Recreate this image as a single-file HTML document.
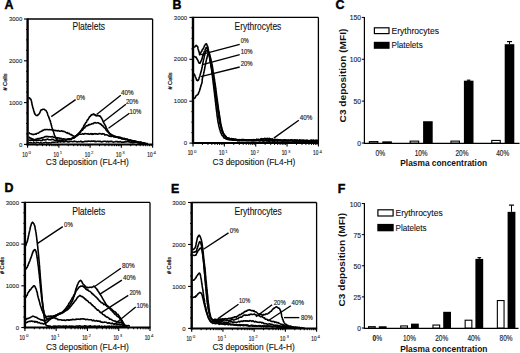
<!DOCTYPE html>
<html><head><meta charset="utf-8"><style>
html,body{margin:0;padding:0;background:#fff;}
svg{display:block;font-family:"Liberation Sans",sans-serif;}
</style></head><body>
<svg width="520" height="353" viewBox="0 0 520 353">
<rect width="520" height="353" fill="#fff"/>
<text x="4.6" y="8.8" font-size="12.4" font-weight="bold" fill="#000" stroke="#000" stroke-width="0.45">A</text>
<text x="172.6" y="8.8" font-size="12.4" font-weight="bold" fill="#000" stroke="#000" stroke-width="0.45">B</text>
<text x="335.4" y="8.6" font-size="12.4" font-weight="bold" fill="#000" stroke="#000" stroke-width="0.45">C</text>
<text x="4.4" y="192.3" font-size="12.4" font-weight="bold" fill="#000" stroke="#000" stroke-width="0.45">D</text>
<text x="171" y="192.6" font-size="12.4" font-weight="bold" fill="#000" stroke="#000" stroke-width="0.45">E</text>
<text x="337.8" y="192.7" font-size="12.4" font-weight="bold" fill="#000" stroke="#000" stroke-width="0.45">F</text>
<line x1="27.6" y1="19" x2="152.6" y2="19" stroke="#000" stroke-width="1.3"/>
<line x1="152.6" y1="19" x2="152.6" y2="144.4" stroke="#000" stroke-width="1.3"/>
<line x1="24" y1="144.4" x2="27.6" y2="144.4" stroke="#000" stroke-width="1.1"/>
<line x1="26" y1="133.95" x2="27.6" y2="133.95" stroke="#000" stroke-width="1"/>
<line x1="26" y1="123.5" x2="27.6" y2="123.5" stroke="#000" stroke-width="1"/>
<line x1="26" y1="113.05" x2="27.6" y2="113.05" stroke="#000" stroke-width="1"/>
<line x1="24" y1="102.6" x2="27.6" y2="102.6" stroke="#000" stroke-width="1.1"/>
<line x1="26" y1="92.15" x2="27.6" y2="92.15" stroke="#000" stroke-width="1"/>
<line x1="26" y1="81.7" x2="27.6" y2="81.7" stroke="#000" stroke-width="1"/>
<line x1="26" y1="71.25" x2="27.6" y2="71.25" stroke="#000" stroke-width="1"/>
<line x1="24" y1="60.8" x2="27.6" y2="60.8" stroke="#000" stroke-width="1.1"/>
<line x1="26" y1="50.35" x2="27.6" y2="50.35" stroke="#000" stroke-width="1"/>
<line x1="26" y1="39.9" x2="27.6" y2="39.9" stroke="#000" stroke-width="1"/>
<line x1="26" y1="29.45" x2="27.6" y2="29.45" stroke="#000" stroke-width="1"/>
<line x1="24" y1="19" x2="27.6" y2="19" stroke="#000" stroke-width="1.1"/>
<text x="22.3" y="146.5" font-size="6" text-anchor="end" fill="#222" stroke="#222" stroke-width="0.1">0</text>
<text x="22.3" y="104.7" font-size="6" text-anchor="end" fill="#222" stroke="#222" stroke-width="0.1">1000</text>
<text x="22.3" y="62.9" font-size="6" text-anchor="end" fill="#222" stroke="#222" stroke-width="0.1">2000</text>
<text x="22.3" y="21.1" font-size="6" text-anchor="end" fill="#222" stroke="#222" stroke-width="0.1">3000</text>
<line x1="27.6" y1="144.4" x2="27.6" y2="147.8" stroke="#000" stroke-width="1.1"/>
<line x1="37.01" y1="144.4" x2="37.01" y2="146.2" stroke="#000" stroke-width="1"/>
<line x1="42.51" y1="144.4" x2="42.51" y2="146.2" stroke="#000" stroke-width="1"/>
<line x1="46.41" y1="144.4" x2="46.41" y2="146.2" stroke="#000" stroke-width="1"/>
<line x1="49.44" y1="144.4" x2="49.44" y2="146.2" stroke="#000" stroke-width="1"/>
<line x1="51.92" y1="144.4" x2="51.92" y2="146.2" stroke="#000" stroke-width="1"/>
<line x1="54.01" y1="144.4" x2="54.01" y2="146.2" stroke="#000" stroke-width="1"/>
<line x1="55.82" y1="144.4" x2="55.82" y2="146.2" stroke="#000" stroke-width="1"/>
<line x1="57.42" y1="144.4" x2="57.42" y2="146.2" stroke="#000" stroke-width="1"/>
<line x1="58.85" y1="144.4" x2="58.85" y2="147.8" stroke="#000" stroke-width="1.1"/>
<line x1="68.26" y1="144.4" x2="68.26" y2="146.2" stroke="#000" stroke-width="1"/>
<line x1="73.76" y1="144.4" x2="73.76" y2="146.2" stroke="#000" stroke-width="1"/>
<line x1="77.66" y1="144.4" x2="77.66" y2="146.2" stroke="#000" stroke-width="1"/>
<line x1="80.69" y1="144.4" x2="80.69" y2="146.2" stroke="#000" stroke-width="1"/>
<line x1="83.17" y1="144.4" x2="83.17" y2="146.2" stroke="#000" stroke-width="1"/>
<line x1="85.26" y1="144.4" x2="85.26" y2="146.2" stroke="#000" stroke-width="1"/>
<line x1="87.07" y1="144.4" x2="87.07" y2="146.2" stroke="#000" stroke-width="1"/>
<line x1="88.67" y1="144.4" x2="88.67" y2="146.2" stroke="#000" stroke-width="1"/>
<line x1="90.1" y1="144.4" x2="90.1" y2="147.8" stroke="#000" stroke-width="1.1"/>
<line x1="99.51" y1="144.4" x2="99.51" y2="146.2" stroke="#000" stroke-width="1"/>
<line x1="105.01" y1="144.4" x2="105.01" y2="146.2" stroke="#000" stroke-width="1"/>
<line x1="108.91" y1="144.4" x2="108.91" y2="146.2" stroke="#000" stroke-width="1"/>
<line x1="111.94" y1="144.4" x2="111.94" y2="146.2" stroke="#000" stroke-width="1"/>
<line x1="114.42" y1="144.4" x2="114.42" y2="146.2" stroke="#000" stroke-width="1"/>
<line x1="116.51" y1="144.4" x2="116.51" y2="146.2" stroke="#000" stroke-width="1"/>
<line x1="118.32" y1="144.4" x2="118.32" y2="146.2" stroke="#000" stroke-width="1"/>
<line x1="119.92" y1="144.4" x2="119.92" y2="146.2" stroke="#000" stroke-width="1"/>
<line x1="121.35" y1="144.4" x2="121.35" y2="147.8" stroke="#000" stroke-width="1.1"/>
<line x1="130.76" y1="144.4" x2="130.76" y2="146.2" stroke="#000" stroke-width="1"/>
<line x1="136.26" y1="144.4" x2="136.26" y2="146.2" stroke="#000" stroke-width="1"/>
<line x1="140.16" y1="144.4" x2="140.16" y2="146.2" stroke="#000" stroke-width="1"/>
<line x1="143.19" y1="144.4" x2="143.19" y2="146.2" stroke="#000" stroke-width="1"/>
<line x1="145.67" y1="144.4" x2="145.67" y2="146.2" stroke="#000" stroke-width="1"/>
<line x1="147.76" y1="144.4" x2="147.76" y2="146.2" stroke="#000" stroke-width="1"/>
<line x1="149.57" y1="144.4" x2="149.57" y2="146.2" stroke="#000" stroke-width="1"/>
<line x1="151.17" y1="144.4" x2="151.17" y2="146.2" stroke="#000" stroke-width="1"/>
<line x1="152.6" y1="144.4" x2="152.6" y2="147.8" stroke="#000" stroke-width="1.1"/>
<text x="22.3" y="156.7" font-size="6.6" textLength="5.2" lengthAdjust="spacingAndGlyphs" fill="#222" stroke="#222" stroke-width="0.18">10</text>
<text x="28.6" y="154.1" font-size="4.4" fill="#222" stroke="#222" stroke-width="0.06">0</text>
<text x="53.55" y="156.7" font-size="6.6" textLength="5.2" lengthAdjust="spacingAndGlyphs" fill="#222" stroke="#222" stroke-width="0.18">10</text>
<text x="59.85" y="154.1" font-size="4.4" fill="#222" stroke="#222" stroke-width="0.06">1</text>
<text x="84.8" y="156.7" font-size="6.6" textLength="5.2" lengthAdjust="spacingAndGlyphs" fill="#222" stroke="#222" stroke-width="0.18">10</text>
<text x="91.1" y="154.1" font-size="4.4" fill="#222" stroke="#222" stroke-width="0.06">2</text>
<text x="116.05" y="156.7" font-size="6.6" textLength="5.2" lengthAdjust="spacingAndGlyphs" fill="#222" stroke="#222" stroke-width="0.18">10</text>
<text x="122.35" y="154.1" font-size="4.4" fill="#222" stroke="#222" stroke-width="0.06">3</text>
<text x="147.3" y="156.7" font-size="6.6" textLength="5.2" lengthAdjust="spacingAndGlyphs" fill="#222" stroke="#222" stroke-width="0.18">10</text>
<text x="153.6" y="154.1" font-size="4.4" fill="#222" stroke="#222" stroke-width="0.06">4</text>
<line x1="27.6" y1="18.4" x2="27.6" y2="145.4" stroke="#000" stroke-width="2.4"/>
<line x1="26.6" y1="144.4" x2="153.2" y2="144.4" stroke="#000" stroke-width="2"/>
<text x="72.5" y="29.8" font-size="10.4" textLength="32.5" lengthAdjust="spacingAndGlyphs" fill="#111" stroke="#111" stroke-width="0.12">Platelets</text>
<text x="45.8" y="165.4" font-size="8.9" textLength="83" lengthAdjust="spacingAndGlyphs" fill="#111" stroke="#111" stroke-width="0.1">C3 deposition (FL4-H)</text>
<text x="7" y="82" font-size="5.6" text-anchor="middle" textLength="17.2" lengthAdjust="spacingAndGlyphs" transform="rotate(-90 7 82)" fill="#111" stroke="#111" stroke-width="0.2"># Cells</text>
<line x1="193" y1="17.4" x2="318.4" y2="17.4" stroke="#000" stroke-width="1.3"/>
<line x1="318.4" y1="17.4" x2="318.4" y2="143.1" stroke="#000" stroke-width="1.3"/>
<line x1="189.4" y1="143.1" x2="193" y2="143.1" stroke="#000" stroke-width="1.1"/>
<line x1="191.4" y1="132.62" x2="193" y2="132.62" stroke="#000" stroke-width="1"/>
<line x1="191.4" y1="122.15" x2="193" y2="122.15" stroke="#000" stroke-width="1"/>
<line x1="191.4" y1="111.67" x2="193" y2="111.67" stroke="#000" stroke-width="1"/>
<line x1="189.4" y1="101.2" x2="193" y2="101.2" stroke="#000" stroke-width="1.1"/>
<line x1="191.4" y1="90.72" x2="193" y2="90.72" stroke="#000" stroke-width="1"/>
<line x1="191.4" y1="80.25" x2="193" y2="80.25" stroke="#000" stroke-width="1"/>
<line x1="191.4" y1="69.78" x2="193" y2="69.78" stroke="#000" stroke-width="1"/>
<line x1="189.4" y1="59.3" x2="193" y2="59.3" stroke="#000" stroke-width="1.1"/>
<line x1="191.4" y1="48.83" x2="193" y2="48.83" stroke="#000" stroke-width="1"/>
<line x1="191.4" y1="38.35" x2="193" y2="38.35" stroke="#000" stroke-width="1"/>
<line x1="191.4" y1="27.88" x2="193" y2="27.88" stroke="#000" stroke-width="1"/>
<line x1="189.4" y1="17.4" x2="193" y2="17.4" stroke="#000" stroke-width="1.1"/>
<text x="187.2" y="145.2" font-size="6" text-anchor="end" fill="#222" stroke="#222" stroke-width="0.1">0</text>
<text x="187.2" y="103.3" font-size="6" text-anchor="end" fill="#222" stroke="#222" stroke-width="0.1">1000</text>
<text x="187.2" y="61.4" font-size="6" text-anchor="end" fill="#222" stroke="#222" stroke-width="0.1">2000</text>
<text x="187.2" y="19.5" font-size="6" text-anchor="end" fill="#222" stroke="#222" stroke-width="0.1">3000</text>
<line x1="193" y1="143.1" x2="193" y2="146.5" stroke="#000" stroke-width="1.1"/>
<line x1="202.44" y1="143.1" x2="202.44" y2="144.9" stroke="#000" stroke-width="1"/>
<line x1="207.96" y1="143.1" x2="207.96" y2="144.9" stroke="#000" stroke-width="1"/>
<line x1="211.87" y1="143.1" x2="211.87" y2="144.9" stroke="#000" stroke-width="1"/>
<line x1="214.91" y1="143.1" x2="214.91" y2="144.9" stroke="#000" stroke-width="1"/>
<line x1="217.4" y1="143.1" x2="217.4" y2="144.9" stroke="#000" stroke-width="1"/>
<line x1="219.49" y1="143.1" x2="219.49" y2="144.9" stroke="#000" stroke-width="1"/>
<line x1="221.31" y1="143.1" x2="221.31" y2="144.9" stroke="#000" stroke-width="1"/>
<line x1="222.92" y1="143.1" x2="222.92" y2="144.9" stroke="#000" stroke-width="1"/>
<line x1="224.35" y1="143.1" x2="224.35" y2="146.5" stroke="#000" stroke-width="1.1"/>
<line x1="233.79" y1="143.1" x2="233.79" y2="144.9" stroke="#000" stroke-width="1"/>
<line x1="239.31" y1="143.1" x2="239.31" y2="144.9" stroke="#000" stroke-width="1"/>
<line x1="243.22" y1="143.1" x2="243.22" y2="144.9" stroke="#000" stroke-width="1"/>
<line x1="246.26" y1="143.1" x2="246.26" y2="144.9" stroke="#000" stroke-width="1"/>
<line x1="248.75" y1="143.1" x2="248.75" y2="144.9" stroke="#000" stroke-width="1"/>
<line x1="250.84" y1="143.1" x2="250.84" y2="144.9" stroke="#000" stroke-width="1"/>
<line x1="252.66" y1="143.1" x2="252.66" y2="144.9" stroke="#000" stroke-width="1"/>
<line x1="254.27" y1="143.1" x2="254.27" y2="144.9" stroke="#000" stroke-width="1"/>
<line x1="255.7" y1="143.1" x2="255.7" y2="146.5" stroke="#000" stroke-width="1.1"/>
<line x1="265.14" y1="143.1" x2="265.14" y2="144.9" stroke="#000" stroke-width="1"/>
<line x1="270.66" y1="143.1" x2="270.66" y2="144.9" stroke="#000" stroke-width="1"/>
<line x1="274.57" y1="143.1" x2="274.57" y2="144.9" stroke="#000" stroke-width="1"/>
<line x1="277.61" y1="143.1" x2="277.61" y2="144.9" stroke="#000" stroke-width="1"/>
<line x1="280.1" y1="143.1" x2="280.1" y2="144.9" stroke="#000" stroke-width="1"/>
<line x1="282.19" y1="143.1" x2="282.19" y2="144.9" stroke="#000" stroke-width="1"/>
<line x1="284.01" y1="143.1" x2="284.01" y2="144.9" stroke="#000" stroke-width="1"/>
<line x1="285.62" y1="143.1" x2="285.62" y2="144.9" stroke="#000" stroke-width="1"/>
<line x1="287.05" y1="143.1" x2="287.05" y2="146.5" stroke="#000" stroke-width="1.1"/>
<line x1="296.49" y1="143.1" x2="296.49" y2="144.9" stroke="#000" stroke-width="1"/>
<line x1="302.01" y1="143.1" x2="302.01" y2="144.9" stroke="#000" stroke-width="1"/>
<line x1="305.92" y1="143.1" x2="305.92" y2="144.9" stroke="#000" stroke-width="1"/>
<line x1="308.96" y1="143.1" x2="308.96" y2="144.9" stroke="#000" stroke-width="1"/>
<line x1="311.45" y1="143.1" x2="311.45" y2="144.9" stroke="#000" stroke-width="1"/>
<line x1="313.54" y1="143.1" x2="313.54" y2="144.9" stroke="#000" stroke-width="1"/>
<line x1="315.36" y1="143.1" x2="315.36" y2="144.9" stroke="#000" stroke-width="1"/>
<line x1="316.97" y1="143.1" x2="316.97" y2="144.9" stroke="#000" stroke-width="1"/>
<line x1="318.4" y1="143.1" x2="318.4" y2="146.5" stroke="#000" stroke-width="1.1"/>
<text x="187.7" y="155.4" font-size="6.6" textLength="5.2" lengthAdjust="spacingAndGlyphs" fill="#222" stroke="#222" stroke-width="0.18">10</text>
<text x="194" y="152.8" font-size="4.4" fill="#222" stroke="#222" stroke-width="0.06">0</text>
<text x="219.05" y="155.4" font-size="6.6" textLength="5.2" lengthAdjust="spacingAndGlyphs" fill="#222" stroke="#222" stroke-width="0.18">10</text>
<text x="225.35" y="152.8" font-size="4.4" fill="#222" stroke="#222" stroke-width="0.06">1</text>
<text x="250.4" y="155.4" font-size="6.6" textLength="5.2" lengthAdjust="spacingAndGlyphs" fill="#222" stroke="#222" stroke-width="0.18">10</text>
<text x="256.7" y="152.8" font-size="4.4" fill="#222" stroke="#222" stroke-width="0.06">2</text>
<text x="281.75" y="155.4" font-size="6.6" textLength="5.2" lengthAdjust="spacingAndGlyphs" fill="#222" stroke="#222" stroke-width="0.18">10</text>
<text x="288.05" y="152.8" font-size="4.4" fill="#222" stroke="#222" stroke-width="0.06">3</text>
<text x="313.1" y="155.4" font-size="6.6" textLength="5.2" lengthAdjust="spacingAndGlyphs" fill="#222" stroke="#222" stroke-width="0.18">10</text>
<text x="319.4" y="152.8" font-size="4.4" fill="#222" stroke="#222" stroke-width="0.06">4</text>
<line x1="193" y1="16.8" x2="193" y2="144.1" stroke="#000" stroke-width="2.4"/>
<line x1="192" y1="143.1" x2="319" y2="143.1" stroke="#000" stroke-width="2"/>
<text x="234.6" y="29.8" font-size="10.4" textLength="46.7" lengthAdjust="spacingAndGlyphs" fill="#111" stroke="#111" stroke-width="0.12">Erythrocytes</text>
<text x="212.6" y="164.9" font-size="8.9" textLength="82.8" lengthAdjust="spacingAndGlyphs" fill="#111" stroke="#111" stroke-width="0.1">C3 deposition (FL4-H)</text>
<text x="172.2" y="81" font-size="5.6" text-anchor="middle" textLength="17.2" lengthAdjust="spacingAndGlyphs" transform="rotate(-90 172.2 81)" fill="#111" stroke="#111" stroke-width="0.2"># Cells</text>
<line x1="24.9" y1="202.4" x2="150" y2="202.4" stroke="#000" stroke-width="1.3"/>
<line x1="150" y1="202.4" x2="150" y2="327.5" stroke="#000" stroke-width="1.3"/>
<line x1="21.3" y1="327.5" x2="24.9" y2="327.5" stroke="#000" stroke-width="1.1"/>
<line x1="23.3" y1="317.07" x2="24.9" y2="317.07" stroke="#000" stroke-width="1"/>
<line x1="23.3" y1="306.65" x2="24.9" y2="306.65" stroke="#000" stroke-width="1"/>
<line x1="23.3" y1="296.23" x2="24.9" y2="296.23" stroke="#000" stroke-width="1"/>
<line x1="21.3" y1="285.8" x2="24.9" y2="285.8" stroke="#000" stroke-width="1.1"/>
<line x1="23.3" y1="275.38" x2="24.9" y2="275.38" stroke="#000" stroke-width="1"/>
<line x1="23.3" y1="264.95" x2="24.9" y2="264.95" stroke="#000" stroke-width="1"/>
<line x1="23.3" y1="254.52" x2="24.9" y2="254.52" stroke="#000" stroke-width="1"/>
<line x1="21.3" y1="244.1" x2="24.9" y2="244.1" stroke="#000" stroke-width="1.1"/>
<line x1="23.3" y1="233.68" x2="24.9" y2="233.68" stroke="#000" stroke-width="1"/>
<line x1="23.3" y1="223.25" x2="24.9" y2="223.25" stroke="#000" stroke-width="1"/>
<line x1="23.3" y1="212.82" x2="24.9" y2="212.82" stroke="#000" stroke-width="1"/>
<line x1="21.3" y1="202.4" x2="24.9" y2="202.4" stroke="#000" stroke-width="1.1"/>
<text x="19" y="329.6" font-size="6" text-anchor="end" fill="#222" stroke="#222" stroke-width="0.1">0</text>
<text x="19" y="287.9" font-size="6" text-anchor="end" fill="#222" stroke="#222" stroke-width="0.1">1000</text>
<text x="19" y="246.2" font-size="6" text-anchor="end" fill="#222" stroke="#222" stroke-width="0.1">2000</text>
<text x="19" y="204.5" font-size="6" text-anchor="end" fill="#222" stroke="#222" stroke-width="0.1">3000</text>
<line x1="24.9" y1="327.5" x2="24.9" y2="330.9" stroke="#000" stroke-width="1.1"/>
<line x1="34.31" y1="327.5" x2="34.31" y2="329.3" stroke="#000" stroke-width="1"/>
<line x1="39.82" y1="327.5" x2="39.82" y2="329.3" stroke="#000" stroke-width="1"/>
<line x1="43.73" y1="327.5" x2="43.73" y2="329.3" stroke="#000" stroke-width="1"/>
<line x1="46.76" y1="327.5" x2="46.76" y2="329.3" stroke="#000" stroke-width="1"/>
<line x1="49.24" y1="327.5" x2="49.24" y2="329.3" stroke="#000" stroke-width="1"/>
<line x1="51.33" y1="327.5" x2="51.33" y2="329.3" stroke="#000" stroke-width="1"/>
<line x1="53.14" y1="327.5" x2="53.14" y2="329.3" stroke="#000" stroke-width="1"/>
<line x1="54.74" y1="327.5" x2="54.74" y2="329.3" stroke="#000" stroke-width="1"/>
<line x1="56.17" y1="327.5" x2="56.17" y2="330.9" stroke="#000" stroke-width="1.1"/>
<line x1="65.59" y1="327.5" x2="65.59" y2="329.3" stroke="#000" stroke-width="1"/>
<line x1="71.1" y1="327.5" x2="71.1" y2="329.3" stroke="#000" stroke-width="1"/>
<line x1="75" y1="327.5" x2="75" y2="329.3" stroke="#000" stroke-width="1"/>
<line x1="78.04" y1="327.5" x2="78.04" y2="329.3" stroke="#000" stroke-width="1"/>
<line x1="80.51" y1="327.5" x2="80.51" y2="329.3" stroke="#000" stroke-width="1"/>
<line x1="82.61" y1="327.5" x2="82.61" y2="329.3" stroke="#000" stroke-width="1"/>
<line x1="84.42" y1="327.5" x2="84.42" y2="329.3" stroke="#000" stroke-width="1"/>
<line x1="86.02" y1="327.5" x2="86.02" y2="329.3" stroke="#000" stroke-width="1"/>
<line x1="87.45" y1="327.5" x2="87.45" y2="330.9" stroke="#000" stroke-width="1.1"/>
<line x1="96.86" y1="327.5" x2="96.86" y2="329.3" stroke="#000" stroke-width="1"/>
<line x1="102.37" y1="327.5" x2="102.37" y2="329.3" stroke="#000" stroke-width="1"/>
<line x1="106.28" y1="327.5" x2="106.28" y2="329.3" stroke="#000" stroke-width="1"/>
<line x1="109.31" y1="327.5" x2="109.31" y2="329.3" stroke="#000" stroke-width="1"/>
<line x1="111.79" y1="327.5" x2="111.79" y2="329.3" stroke="#000" stroke-width="1"/>
<line x1="113.88" y1="327.5" x2="113.88" y2="329.3" stroke="#000" stroke-width="1"/>
<line x1="115.69" y1="327.5" x2="115.69" y2="329.3" stroke="#000" stroke-width="1"/>
<line x1="117.29" y1="327.5" x2="117.29" y2="329.3" stroke="#000" stroke-width="1"/>
<line x1="118.72" y1="327.5" x2="118.72" y2="330.9" stroke="#000" stroke-width="1.1"/>
<line x1="128.14" y1="327.5" x2="128.14" y2="329.3" stroke="#000" stroke-width="1"/>
<line x1="133.65" y1="327.5" x2="133.65" y2="329.3" stroke="#000" stroke-width="1"/>
<line x1="137.55" y1="327.5" x2="137.55" y2="329.3" stroke="#000" stroke-width="1"/>
<line x1="140.59" y1="327.5" x2="140.59" y2="329.3" stroke="#000" stroke-width="1"/>
<line x1="143.06" y1="327.5" x2="143.06" y2="329.3" stroke="#000" stroke-width="1"/>
<line x1="145.16" y1="327.5" x2="145.16" y2="329.3" stroke="#000" stroke-width="1"/>
<line x1="146.97" y1="327.5" x2="146.97" y2="329.3" stroke="#000" stroke-width="1"/>
<line x1="148.57" y1="327.5" x2="148.57" y2="329.3" stroke="#000" stroke-width="1"/>
<line x1="150" y1="327.5" x2="150" y2="330.9" stroke="#000" stroke-width="1.1"/>
<text x="19.6" y="339.8" font-size="6.6" textLength="5.2" lengthAdjust="spacingAndGlyphs" fill="#222" stroke="#222" stroke-width="0.18">10</text>
<text x="25.9" y="337.2" font-size="4.4" fill="#222" stroke="#222" stroke-width="0.06">0</text>
<text x="50.88" y="339.8" font-size="6.6" textLength="5.2" lengthAdjust="spacingAndGlyphs" fill="#222" stroke="#222" stroke-width="0.18">10</text>
<text x="57.17" y="337.2" font-size="4.4" fill="#222" stroke="#222" stroke-width="0.06">1</text>
<text x="82.15" y="339.8" font-size="6.6" textLength="5.2" lengthAdjust="spacingAndGlyphs" fill="#222" stroke="#222" stroke-width="0.18">10</text>
<text x="88.45" y="337.2" font-size="4.4" fill="#222" stroke="#222" stroke-width="0.06">2</text>
<text x="113.42" y="339.8" font-size="6.6" textLength="5.2" lengthAdjust="spacingAndGlyphs" fill="#222" stroke="#222" stroke-width="0.18">10</text>
<text x="119.72" y="337.2" font-size="4.4" fill="#222" stroke="#222" stroke-width="0.06">3</text>
<text x="144.7" y="339.8" font-size="6.6" textLength="5.2" lengthAdjust="spacingAndGlyphs" fill="#222" stroke="#222" stroke-width="0.18">10</text>
<text x="151" y="337.2" font-size="4.4" fill="#222" stroke="#222" stroke-width="0.06">4</text>
<line x1="24.9" y1="201.8" x2="24.9" y2="328.5" stroke="#000" stroke-width="2.4"/>
<line x1="23.9" y1="327.5" x2="150.6" y2="327.5" stroke="#000" stroke-width="2"/>
<text x="72.2" y="214.5" font-size="10.4" textLength="33" lengthAdjust="spacingAndGlyphs" fill="#111" stroke="#111" stroke-width="0.12">Platelets</text>
<text x="46" y="350.3" font-size="8.9" textLength="82.8" lengthAdjust="spacingAndGlyphs" fill="#111" stroke="#111" stroke-width="0.1">C3 deposition (FL4-H)</text>
<text x="4" y="265.5" font-size="5.6" text-anchor="middle" textLength="17.2" lengthAdjust="spacingAndGlyphs" transform="rotate(-90 4 265.5)" fill="#111" stroke="#111" stroke-width="0.2"># Cells</text>
<line x1="191.7" y1="202.5" x2="316.6" y2="202.5" stroke="#000" stroke-width="1.3"/>
<line x1="316.6" y1="202.5" x2="316.6" y2="328.4" stroke="#000" stroke-width="1.3"/>
<line x1="188.1" y1="328.4" x2="191.7" y2="328.4" stroke="#000" stroke-width="1.1"/>
<line x1="190.1" y1="317.91" x2="191.7" y2="317.91" stroke="#000" stroke-width="1"/>
<line x1="190.1" y1="307.42" x2="191.7" y2="307.42" stroke="#000" stroke-width="1"/>
<line x1="190.1" y1="296.92" x2="191.7" y2="296.92" stroke="#000" stroke-width="1"/>
<line x1="188.1" y1="286.43" x2="191.7" y2="286.43" stroke="#000" stroke-width="1.1"/>
<line x1="190.1" y1="275.94" x2="191.7" y2="275.94" stroke="#000" stroke-width="1"/>
<line x1="190.1" y1="265.45" x2="191.7" y2="265.45" stroke="#000" stroke-width="1"/>
<line x1="190.1" y1="254.96" x2="191.7" y2="254.96" stroke="#000" stroke-width="1"/>
<line x1="188.1" y1="244.47" x2="191.7" y2="244.47" stroke="#000" stroke-width="1.1"/>
<line x1="190.1" y1="233.97" x2="191.7" y2="233.97" stroke="#000" stroke-width="1"/>
<line x1="190.1" y1="223.48" x2="191.7" y2="223.48" stroke="#000" stroke-width="1"/>
<line x1="190.1" y1="212.99" x2="191.7" y2="212.99" stroke="#000" stroke-width="1"/>
<line x1="188.1" y1="202.5" x2="191.7" y2="202.5" stroke="#000" stroke-width="1.1"/>
<text x="185.6" y="330.5" font-size="6" text-anchor="end" fill="#222" stroke="#222" stroke-width="0.1">0</text>
<text x="185.6" y="288.53" font-size="6" text-anchor="end" fill="#222" stroke="#222" stroke-width="0.1">1000</text>
<text x="185.6" y="246.57" font-size="6" text-anchor="end" fill="#222" stroke="#222" stroke-width="0.1">2000</text>
<text x="185.6" y="204.6" font-size="6" text-anchor="end" fill="#222" stroke="#222" stroke-width="0.1">3000</text>
<line x1="191.7" y1="328.4" x2="191.7" y2="331.8" stroke="#000" stroke-width="1.1"/>
<line x1="201.1" y1="328.4" x2="201.1" y2="330.2" stroke="#000" stroke-width="1"/>
<line x1="206.6" y1="328.4" x2="206.6" y2="330.2" stroke="#000" stroke-width="1"/>
<line x1="210.5" y1="328.4" x2="210.5" y2="330.2" stroke="#000" stroke-width="1"/>
<line x1="213.53" y1="328.4" x2="213.53" y2="330.2" stroke="#000" stroke-width="1"/>
<line x1="216" y1="328.4" x2="216" y2="330.2" stroke="#000" stroke-width="1"/>
<line x1="218.09" y1="328.4" x2="218.09" y2="330.2" stroke="#000" stroke-width="1"/>
<line x1="219.9" y1="328.4" x2="219.9" y2="330.2" stroke="#000" stroke-width="1"/>
<line x1="221.5" y1="328.4" x2="221.5" y2="330.2" stroke="#000" stroke-width="1"/>
<line x1="222.93" y1="328.4" x2="222.93" y2="331.8" stroke="#000" stroke-width="1.1"/>
<line x1="232.32" y1="328.4" x2="232.32" y2="330.2" stroke="#000" stroke-width="1"/>
<line x1="237.82" y1="328.4" x2="237.82" y2="330.2" stroke="#000" stroke-width="1"/>
<line x1="241.72" y1="328.4" x2="241.72" y2="330.2" stroke="#000" stroke-width="1"/>
<line x1="244.75" y1="328.4" x2="244.75" y2="330.2" stroke="#000" stroke-width="1"/>
<line x1="247.22" y1="328.4" x2="247.22" y2="330.2" stroke="#000" stroke-width="1"/>
<line x1="249.31" y1="328.4" x2="249.31" y2="330.2" stroke="#000" stroke-width="1"/>
<line x1="251.12" y1="328.4" x2="251.12" y2="330.2" stroke="#000" stroke-width="1"/>
<line x1="252.72" y1="328.4" x2="252.72" y2="330.2" stroke="#000" stroke-width="1"/>
<line x1="254.15" y1="328.4" x2="254.15" y2="331.8" stroke="#000" stroke-width="1.1"/>
<line x1="263.55" y1="328.4" x2="263.55" y2="330.2" stroke="#000" stroke-width="1"/>
<line x1="269.05" y1="328.4" x2="269.05" y2="330.2" stroke="#000" stroke-width="1"/>
<line x1="272.95" y1="328.4" x2="272.95" y2="330.2" stroke="#000" stroke-width="1"/>
<line x1="275.98" y1="328.4" x2="275.98" y2="330.2" stroke="#000" stroke-width="1"/>
<line x1="278.45" y1="328.4" x2="278.45" y2="330.2" stroke="#000" stroke-width="1"/>
<line x1="280.54" y1="328.4" x2="280.54" y2="330.2" stroke="#000" stroke-width="1"/>
<line x1="282.35" y1="328.4" x2="282.35" y2="330.2" stroke="#000" stroke-width="1"/>
<line x1="283.95" y1="328.4" x2="283.95" y2="330.2" stroke="#000" stroke-width="1"/>
<line x1="285.38" y1="328.4" x2="285.38" y2="331.8" stroke="#000" stroke-width="1.1"/>
<line x1="294.77" y1="328.4" x2="294.77" y2="330.2" stroke="#000" stroke-width="1"/>
<line x1="300.27" y1="328.4" x2="300.27" y2="330.2" stroke="#000" stroke-width="1"/>
<line x1="304.17" y1="328.4" x2="304.17" y2="330.2" stroke="#000" stroke-width="1"/>
<line x1="307.2" y1="328.4" x2="307.2" y2="330.2" stroke="#000" stroke-width="1"/>
<line x1="309.67" y1="328.4" x2="309.67" y2="330.2" stroke="#000" stroke-width="1"/>
<line x1="311.76" y1="328.4" x2="311.76" y2="330.2" stroke="#000" stroke-width="1"/>
<line x1="313.57" y1="328.4" x2="313.57" y2="330.2" stroke="#000" stroke-width="1"/>
<line x1="315.17" y1="328.4" x2="315.17" y2="330.2" stroke="#000" stroke-width="1"/>
<line x1="316.6" y1="328.4" x2="316.6" y2="331.8" stroke="#000" stroke-width="1.1"/>
<text x="186.4" y="340.7" font-size="6.6" textLength="5.2" lengthAdjust="spacingAndGlyphs" fill="#222" stroke="#222" stroke-width="0.18">10</text>
<text x="192.7" y="338.1" font-size="4.4" fill="#222" stroke="#222" stroke-width="0.06">0</text>
<text x="217.62" y="340.7" font-size="6.6" textLength="5.2" lengthAdjust="spacingAndGlyphs" fill="#222" stroke="#222" stroke-width="0.18">10</text>
<text x="223.93" y="338.1" font-size="4.4" fill="#222" stroke="#222" stroke-width="0.06">1</text>
<text x="248.85" y="340.7" font-size="6.6" textLength="5.2" lengthAdjust="spacingAndGlyphs" fill="#222" stroke="#222" stroke-width="0.18">10</text>
<text x="255.15" y="338.1" font-size="4.4" fill="#222" stroke="#222" stroke-width="0.06">2</text>
<text x="280.07" y="340.7" font-size="6.6" textLength="5.2" lengthAdjust="spacingAndGlyphs" fill="#222" stroke="#222" stroke-width="0.18">10</text>
<text x="286.38" y="338.1" font-size="4.4" fill="#222" stroke="#222" stroke-width="0.06">3</text>
<text x="311.3" y="340.7" font-size="6.6" textLength="5.2" lengthAdjust="spacingAndGlyphs" fill="#222" stroke="#222" stroke-width="0.18">10</text>
<text x="317.6" y="338.1" font-size="4.4" fill="#222" stroke="#222" stroke-width="0.06">4</text>
<line x1="191.7" y1="201.9" x2="191.7" y2="329.4" stroke="#000" stroke-width="2.4"/>
<line x1="190.7" y1="328.4" x2="317.2" y2="328.4" stroke="#000" stroke-width="2"/>
<text x="234.6" y="215.2" font-size="10.4" textLength="47.1" lengthAdjust="spacingAndGlyphs" fill="#111" stroke="#111" stroke-width="0.12">Erythrocytes</text>
<text x="212.5" y="350.3" font-size="8.9" textLength="82.2" lengthAdjust="spacingAndGlyphs" fill="#111" stroke="#111" stroke-width="0.1">C3 deposition (FL4-H)</text>
<text x="170.6" y="265.5" font-size="5.6" text-anchor="middle" textLength="17.2" lengthAdjust="spacingAndGlyphs" transform="rotate(-90 170.6 265.5)" fill="#111" stroke="#111" stroke-width="0.2"># Cells</text>
<polyline points="28.5,97.5 29.0,97.7 29.7,98.0 30.3,99.0 30.9,99.2 31.3,100.7 31.5,101.2 31.6,101.6 31.7,102.8 31.9,103.2 32.0,104.4 32.2,104.8 32.4,105.6 32.6,106.7 32.8,107.8 33.0,108.0 33.3,108.8 33.5,109.9 33.7,110.9 34.0,111.3 34.2,111.9 34.4,113.1 34.7,112.9 34.9,114.1 35.3,114.5 35.8,115.0 36.2,115.4 36.9,115.5 37.6,115.5 38.2,114.5 38.8,114.2 39.4,113.5 39.8,112.7 40.1,112.2 40.5,111.0 40.8,110.3 41.2,109.9 42.1,109.7 43.0,109.2 44.0,109.2 44.9,109.9 45.5,110.2 46.1,110.6 46.7,111.9 47.0,112.4 47.3,112.7 47.5,113.7 47.7,114.5 48.0,115.5 48.3,116.1 48.6,116.5 48.9,117.8 49.1,117.8 49.4,118.7 49.7,119.8 49.9,120.0 50.2,121.1 50.5,121.7 50.7,122.9 50.9,123.6 51.1,124.2 51.3,125.2 51.5,125.4 51.7,126.5 51.9,127.2 52.1,127.9 52.3,128.5 52.6,129.6 52.8,130.4 53.1,130.7 53.3,131.6 53.6,131.7 53.8,133.0 54.1,133.7 54.3,134.8 54.6,135.5 54.8,135.7 55.1,136.5 55.4,137.5 55.8,137.6 56.2,138.7 56.6,139.0 57.0,139.5 57.5,139.9 58.0,141.0 58.5,140.7 59.3,141.0 60.5,141.3 61.0,141.8 61.5,141.1 62.0,141.5 62.6,141.6 63.2,141.9 63.8,141.9 64.5,141.9 65.3,141.4 66.1,141.5 67.0,141.5 67.9,141.9 68.9,142.0 70.0,141.3 70.5,141.3 71.1,141.4 71.7,141.4 72.3,141.6 72.9,141.7 73.6,141.4 74.3,141.1 74.9,141.5 75.7,141.5 76.4,141.6 77.1,142.0 77.8,141.7 78.6,141.6 79.3,141.7 80.1,141.7 80.9,141.1 81.7,141.9 82.4,141.8 83.2,141.9 84.0,141.8 84.8,141.4 85.5,141.4 86.3,141.2 87.1,141.6 87.8,141.1 88.5,141.1 89.3,141.2 90.0,141.2 90.7,141.4 91.4,141.1 92.2,141.1 92.9,141.2 93.6,141.1 94.4,141.4 95.1,141.1 95.9,141.8 96.6,141.6 97.3,141.2 98.1,141.3 98.8,141.4 99.6,141.4 100.3,141.2 101.0,141.8 101.8,142.0 102.5,141.5 103.2,141.5 103.9,141.2 104.7,141.2 105.4,141.4 106.0,141.4 106.7,141.9 107.4,141.3 108.1,141.2 108.7,142.0 109.4,141.6 110.0,141.3 110.8,141.6 111.6,141.2 112.4,141.7 113.2,142.1 114.0,142.0 114.8,141.8 115.6,141.5 116.3,141.6 117.0,141.4 117.8,142.0 118.5,141.8 119.2,142.0 119.9,141.6 120.6,141.5 121.2,142.1 121.9,142.2 122.5,142.1 123.2,142.1 123.8,142.1 124.4,142.1 125.0,141.7 125.9,141.9 126.7,141.8 127.5,141.6 128.2,141.6 128.9,141.9 129.6,141.9 130.3,142.3 131.0,142.6 131.6,142.2 132.3,142.7 132.9,142.8 133.6,142.8 134.3,142.3 135.0,142.2 135.7,142.3 136.5,142.3 137.3,142.4 138.1,142.8 139.0,143.1 139.8,143.1 140.6,142.9 141.4,143.1 142.2,143.3 142.9,142.7 143.5,143.2 144.1,143.5 144.6,143.4 145.0,143.2" fill="none" stroke="#000" stroke-width="1.6" stroke-linejoin="round"/>
<polyline points="28.6,142.6 29.0,142.8 29.5,142.6 30.1,142.3 30.7,142.9 31.4,142.5 32.1,142.9 32.9,143.1 33.7,142.6 34.5,142.6 35.3,143.1 36.2,142.9 37.0,142.4 37.8,142.4 38.6,142.4 39.3,143.1 40.0,143.0 40.8,142.4 41.5,143.0 42.3,143.1 43.1,142.8 43.8,142.6 44.6,142.7 45.3,142.3 46.1,142.2 46.8,143.1 47.5,142.8 48.1,142.7 48.8,143.0 49.4,142.6 50.0,142.9 50.9,142.9 51.8,142.3 52.6,142.3 53.3,142.2 54.0,142.1 54.7,142.4 55.3,142.0 56.0,142.1 56.8,141.8 57.6,142.4 58.5,141.8 59.3,141.8 60.0,141.8 60.6,142.0 61.0,141.6" fill="none" stroke="#000" stroke-width="1.4" stroke-linejoin="round"/>
<polyline points="28.6,132.7 29.2,132.9 30.1,133.8 31.0,133.8 31.6,134.1 32.3,134.4 33.0,134.2 33.7,134.6 34.5,134.3 35.3,133.9 36.1,134.3 37.0,133.3 37.6,133.3 38.3,133.2 39.0,132.6 39.6,132.0 40.3,131.8 40.9,131.5 41.7,131.3 42.5,130.3 43.2,130.4 44.0,129.8 44.8,129.6 45.5,129.8 46.3,129.5 47.2,129.5 47.9,129.7 48.6,129.8 49.4,129.5 50.2,129.8 51.1,129.8 52.0,129.9 52.6,130.1 53.3,130.0 54.0,130.2 54.7,130.2 55.4,130.7 56.1,130.6 56.9,130.8 57.6,131.0 58.3,130.5 59.0,130.9 59.7,131.3 60.5,131.3 61.2,130.8 61.9,130.9 62.6,131.4 63.3,131.2 64.0,131.5 64.7,131.5 65.4,132.3 66.1,132.6 66.8,133.0 67.4,132.6 68.1,133.4 68.7,133.6 69.4,133.4 70.0,134.3 70.7,134.8 71.5,134.5 72.2,135.6 72.9,135.6 73.6,136.0 74.3,136.6 75.0,136.5 75.6,135.8 76.2,135.7 76.8,135.4 77.3,134.8 77.9,134.2 78.5,133.8 79.0,133.6 79.5,132.4 79.9,132.3 80.3,131.7 80.7,130.7 81.1,130.4 81.5,130.1 81.9,129.4 82.3,128.3 82.6,128.5 83.0,127.8 83.4,127.3 83.7,125.9 84.1,125.5 84.5,124.6 84.8,124.7 85.2,123.6 85.6,122.9 85.9,122.5 86.3,122.4 86.7,121.6 87.1,120.4 87.6,119.6 88.0,119.7 88.4,118.7 88.8,118.2 89.3,117.1 89.7,116.5 90.3,116.4 90.9,115.6 91.4,114.7 92.0,115.0 92.6,114.4 93.1,114.4 93.8,113.8 94.5,115.0 95.3,114.8 96.0,115.9 96.8,115.6 97.7,115.5 98.6,115.6 99.4,116.2 99.9,116.0 100.4,116.3 100.8,117.3 101.2,117.7 101.6,118.2 101.9,118.8 102.2,119.4 102.6,120.1 102.9,120.9 103.2,121.6 103.6,122.7 103.9,122.9 104.2,123.8 104.6,124.1 104.9,125.0 105.2,125.3 105.6,126.2 105.9,126.6 106.2,127.9 106.6,128.4 106.9,128.8 107.3,129.7 107.6,130.8 108.0,130.7 108.4,131.9 108.9,132.2 109.4,132.9 110.0,133.7 110.6,133.9 111.3,134.5 111.8,135.0 112.4,135.6 113.0,135.4 113.6,136.1 114.3,136.3 115.0,136.5 115.8,136.6 116.4,136.7 116.9,136.7 117.5,136.9 118.2,137.0 118.8,137.7 119.5,137.4 120.2,137.5 120.9,137.6 121.7,138.5 122.6,138.7 123.2,138.7 123.8,138.5 124.4,138.6 125.1,138.9 125.8,139.2 126.6,139.1 127.3,139.6 128.0,139.6 128.8,140.4 129.5,140.6 130.3,140.4 131.0,140.3 131.7,141.2 132.4,140.7 133.0,140.9 133.6,140.8 134.4,141.3 135.2,141.6 136.0,141.7 136.7,141.6 137.4,142.1 138.1,141.7 138.7,142.1 139.4,142.1 140.0,142.5 140.6,142.3 141.3,142.4 142.1,142.8 143.0,142.8 143.9,143.2 144.7,143.3 145.5,143.6 146.3,143.6 147.0,143.7 147.6,143.9 148.0,143.6" fill="none" stroke="#000" stroke-width="1.6" stroke-linejoin="round"/>
<polyline points="28.6,137.0 29.0,137.2 29.6,137.5 30.3,138.6 31.0,138.2 31.6,139.0 32.2,139.1 32.8,138.8 33.6,139.7 34.5,139.8 35.1,139.5 35.7,139.4 36.4,139.3 37.2,138.6 37.9,138.7 38.7,138.5 39.4,138.6 40.2,138.3 40.9,138.2 41.6,137.8 42.3,137.9 43.1,137.6 43.8,137.4 44.5,136.9 45.2,136.6 45.9,136.5 46.6,136.6 47.2,136.3 48.1,136.9 48.9,136.6 49.6,136.7 50.3,136.7 51.1,136.9 52.0,136.8 52.6,136.5 53.3,137.3 54.0,137.4 54.7,137.4 55.4,137.6 56.1,137.9 56.9,137.5 57.6,138.3 58.3,138.0 59.0,137.9 59.7,138.2 60.4,138.8 61.1,138.4 61.8,139.0 62.5,139.3 63.2,138.9 63.9,138.9 64.7,139.0 65.4,139.2 66.1,139.3 66.8,139.2 67.5,139.3 68.3,138.8 69.0,138.8 69.8,138.9 70.5,139.2 71.3,138.6 72.0,138.6 72.6,137.8 73.2,137.5 73.7,137.3 74.3,137.3 74.9,136.9 75.5,136.4 76.1,135.6 76.7,135.3 77.3,134.7 77.8,134.2 78.4,133.4 79.0,133.6 79.5,132.5 80.1,132.7 80.6,132.1 81.2,130.8 81.7,130.6 82.2,130.3 82.7,129.9 83.2,128.9 83.8,128.2 84.3,127.6 84.8,127.8 85.3,126.6 85.8,126.6 86.5,125.7 87.2,125.6 87.9,125.6 88.6,124.6 89.2,124.9 89.9,124.3 90.6,124.5 91.3,124.1 92.0,123.5 92.8,123.9 93.6,123.3 94.4,122.8 95.2,122.6 96.0,123.0 96.8,123.0 97.5,122.8 98.2,122.8 99.0,123.2 99.7,123.5 100.4,124.3 101.0,124.0 101.6,125.2 102.2,125.7 102.8,125.6 103.4,126.8 103.9,127.2 104.5,127.9 105.0,128.0 105.4,128.6 105.8,129.2 106.2,130.3 106.6,130.6 107.0,131.0 107.4,131.6 107.9,132.0 108.4,132.3 108.9,132.9 109.5,134.0 110.1,134.0 110.7,135.0 111.5,134.8 112.1,135.1 112.7,135.6 113.4,135.6 114.2,136.0 114.9,136.8 115.7,136.9 116.4,137.1 117.2,137.2 117.9,137.7 118.6,137.9 119.2,137.7 119.8,138.1 120.4,137.6 121.1,138.4 121.7,138.3 122.4,138.7 123.2,138.8 124.0,138.7 124.6,138.6 125.2,139.6 125.9,139.0 126.5,139.5 127.2,139.6 128.0,139.7 128.7,140.3 129.4,140.7 130.2,140.2 130.9,140.7 131.6,140.6 132.3,141.0 133.0,141.0 133.6,140.9 134.4,141.1 135.1,141.3 135.9,142.1 136.6,141.9 137.3,141.8 138.0,142.5 138.7,142.8 139.3,142.4 140.0,142.2 140.6,142.4 141.3,142.4 142.1,142.8 143.0,142.7 143.9,142.9 144.7,143.0 145.5,143.4 146.3,143.8 147.0,143.7 147.6,143.5 148.0,143.6" fill="none" stroke="#000" stroke-width="1.6" stroke-linejoin="round"/>
<polyline points="28.6,140.2 29.0,140.1 29.6,140.3 30.3,140.2 31.0,140.2 31.8,139.9 32.7,140.2 33.5,140.8 34.3,140.1 35.0,140.4 35.7,140.5 36.5,140.7 37.2,140.1 37.9,140.2 38.6,140.1 39.3,140.2 40.1,140.2 40.9,140.6 41.5,140.5 42.2,140.4 42.9,139.6 43.6,139.5 44.4,140.0 45.1,140.0 45.8,139.6 46.6,139.6 47.3,139.0 48.1,139.3 48.8,139.8 49.5,139.7 50.2,139.8 51.0,139.9 51.7,139.4 52.4,139.3 53.1,139.5 53.9,139.9 54.6,140.2 55.3,140.5 56.0,140.3 56.7,140.3 57.5,140.5 58.2,140.3 58.9,140.4 59.6,140.0 60.3,140.6 61.1,140.2 61.8,140.8 62.5,140.5 63.2,140.2 64.0,140.0 64.7,140.0 65.4,140.3 66.2,140.2 66.9,139.6 67.7,139.5 68.5,139.7 69.2,139.7 69.9,139.3 70.7,139.0 71.3,139.1 72.0,138.4 72.7,138.3 73.4,138.1 74.0,138.2 74.6,137.4 75.2,137.2 75.8,136.4 76.4,135.8 77.0,135.4 77.5,135.7 78.0,135.2 78.8,134.4 79.5,133.9 80.1,134.2 80.8,134.3 82.0,133.9 82.5,133.7 83.1,134.1 83.7,134.3 84.4,133.7 85.1,133.5 85.8,133.7 86.6,133.8 87.3,134.0 88.1,133.6 88.9,134.2 89.7,134.1 90.5,133.9 91.2,133.6 92.0,134.3 92.7,133.7 93.5,134.2 94.3,133.7 95.1,133.6 95.9,134.1 96.7,133.7 97.6,134.3 98.4,133.9 99.2,133.6 99.9,133.6 100.6,133.8 101.3,134.1 101.9,134.3 102.5,133.6 103.0,133.9 104.5,134.0 105.0,135.1 105.6,134.7 106.3,134.8 107.0,134.9 107.9,135.3 109.0,136.0 109.5,136.1 110.2,136.0 110.8,136.4 111.5,136.5 112.2,136.1 113.0,136.1 113.7,136.9 114.5,136.9 115.2,136.4 116.0,137.1 116.7,137.0 117.4,137.2 118.1,137.3 118.8,137.3 119.5,137.3 120.2,137.7 120.9,138.0 121.7,138.7 122.4,138.1 123.2,139.0 124.0,138.5 124.6,138.8 125.3,139.4 126.0,139.6 126.7,139.4 127.4,139.2 128.1,139.8 128.8,139.9 129.5,140.6 130.2,140.1 130.9,140.4 131.6,141.1 132.3,140.5 133.0,141.0 133.6,141.5 134.4,141.6 135.2,141.1 136.0,141.3 136.9,141.5 137.7,142.4 138.4,142.0 139.1,142.6 139.8,142.9 140.4,142.5 140.9,142.5 141.3,142.8" fill="none" stroke="#000" stroke-width="1.6" stroke-linejoin="round"/>
<line x1="51.3" y1="116.6" x2="75.6" y2="99.6" stroke="#000" stroke-width="1.35"/>
<line x1="96.6" y1="114.5" x2="120.8" y2="95.2" stroke="#000" stroke-width="1.35"/>
<line x1="103.7" y1="121.5" x2="125.9" y2="104.2" stroke="#000" stroke-width="1.35"/>
<line x1="108.5" y1="128.3" x2="129.4" y2="113.3" stroke="#000" stroke-width="1.35"/>
<text x="76.4" y="100" font-size="6.4" textLength="8.7" lengthAdjust="spacingAndGlyphs" fill="#222" stroke="#222" stroke-width="0.15">0%</text>
<text x="121" y="95.3" font-size="6.4" textLength="12.6" lengthAdjust="spacingAndGlyphs" fill="#222" stroke="#222" stroke-width="0.15">40%</text>
<text x="125.9" y="104.4" font-size="6.4" textLength="12.5" lengthAdjust="spacingAndGlyphs" fill="#222" stroke="#222" stroke-width="0.15">20%</text>
<text x="129.4" y="113.7" font-size="6.4" textLength="11.9" lengthAdjust="spacingAndGlyphs" fill="#222" stroke="#222" stroke-width="0.15">10%</text>
<polyline points="194.0,47.3 194.7,47.1 195.5,46.1 196.2,45.4 197.0,46.1 197.3,46.2 197.5,46.7 197.8,47.2 198.0,48.7 198.3,49.6 198.5,50.1 198.7,51.2 198.9,51.3 199.2,52.4 199.4,53.4 199.6,54.5 199.8,54.8 200.3,54.0 200.7,52.8 201.2,51.9 201.5,51.4 201.9,51.1 202.2,49.8 202.6,49.7 203.0,49.0 203.3,48.3 203.7,47.6 204.1,46.7 204.5,45.8 205.1,44.9 205.6,44.0 206.1,44.1 206.5,43.8 206.9,44.7 207.3,46.2 207.5,46.3 207.7,46.6 207.9,47.1 208.1,48.4 208.3,49.2 208.4,50.4 208.5,50.9 208.6,51.6 208.8,51.6 208.9,52.2 209.0,52.9 209.2,54.1 209.3,55.0 209.4,55.6 209.6,56.3 209.7,57.3 209.9,58.3 210.0,59.2 210.1,59.9 210.2,60.6 210.3,61.1 210.4,61.3 210.5,62.6 210.6,62.8 210.7,63.8 210.9,64.3 211.0,65.4 211.1,65.6 211.2,66.4 211.3,67.1 211.4,67.7 211.5,69.1 211.6,69.6 211.7,70.1 211.8,70.9 211.9,72.1 212.0,72.4 212.1,72.9 212.2,74.1 212.3,74.7 212.4,75.7 212.4,75.6 212.5,76.7 212.6,77.7 212.7,78.5 212.8,79.3 212.9,79.2 213.0,80.2 213.1,80.7 213.1,81.5 213.2,83.0 213.3,83.4 213.4,84.4 213.5,84.6 213.6,85.8 213.7,86.1 213.7,86.7 213.8,87.9 213.9,88.8 214.0,88.7 214.1,89.9 214.2,90.7 214.2,91.0 214.3,91.9 214.4,92.4 214.5,93.2 214.6,94.0 214.7,95.0 214.7,95.7 214.8,96.0 214.9,96.6 215.0,97.6 215.1,98.6 215.2,98.9 215.2,99.8 215.3,100.4 215.4,101.7 215.5,102.2 215.6,102.4 215.7,103.2 215.7,104.2 215.8,105.0 215.9,105.8 216.0,106.0 216.1,106.7 216.1,107.9 216.2,108.3 216.3,108.8 216.4,109.6 216.5,111.0 216.6,111.2 216.7,112.1 216.8,112.7 216.9,113.5 217.0,114.6 217.0,115.4 217.1,115.6 217.2,116.1 217.3,117.3 217.4,117.5 217.5,117.9 217.6,119.4 217.7,119.8 217.9,121.0 218.0,121.4 218.1,122.6 218.3,123.0 218.4,123.4 218.5,124.0 218.7,125.2 218.8,125.9 219.0,126.9 219.2,127.0 219.4,128.3 219.6,128.8 219.8,129.7 220.1,130.1 220.3,131.0 220.5,131.9 220.8,132.9 221.2,133.0 221.5,134.1 221.9,135.1 222.4,135.9 222.8,135.9 223.3,136.4 223.8,137.6 224.3,138.1 224.8,138.0 225.4,138.0 226.1,139.1 227.0,138.9 227.5,139.5 228.1,139.4 228.7,139.7 229.3,139.2 230.0,139.9 230.6,139.5 231.4,139.8 232.2,140.3 233.1,140.3 234.0,139.8 235.0,139.9 235.5,140.1 235.9,140.3 236.3,140.2 236.6,140.0 236.9,140.1 237.2,140.6 237.5,140.8 237.8,140.0 238.2,140.5 238.5,140.7 239.0,140.0 239.5,140.8 240.1,140.1 240.8,140.6 241.6,140.6 242.6,140.6 243.7,140.4 245.0,140.5 246.5,140.6 248.1,140.5 250.0,140.7 250.4,140.6 250.9,140.6 251.4,140.2 251.9,140.7 252.4,140.6 252.9,140.4 253.4,140.9 254.0,140.9 254.6,140.6 255.1,140.4 255.7,140.6 256.4,140.3 257.0,140.3 257.6,140.6 258.3,140.3 258.9,140.6 259.6,140.7 260.3,140.3 261.0,140.8 261.7,140.3 262.4,140.9 263.2,140.9 263.9,140.7 264.7,140.3 265.4,140.7 266.2,140.6 267.0,141.1 267.8,140.4 268.6,141.1 269.4,141.2 270.2,141.0 271.0,141.0 271.8,140.5 272.6,141.2 273.5,140.8 274.3,141.2 275.1,141.1 276.0,140.5 276.8,141.0 277.7,141.2 278.5,140.4 279.4,140.7 280.2,141.0 281.1,140.5 281.9,141.2 282.8,140.6 283.7,141.1 284.5,140.5 285.4,140.8 286.2,141.2 287.1,140.6 287.9,140.6 288.8,140.9 289.6,140.7 290.5,140.4 291.3,140.6 292.2,140.6 293.0,141.3 293.8,141.0 294.6,141.2 295.5,140.6 296.3,141.1 297.1,140.5 297.9,140.9 298.7,141.0 299.5,140.8 300.2,141.2 301.0,141.0 301.8,141.0 302.5,141.3 303.3,140.6 304.0,141.4 304.7,141.0 305.4,140.8 306.1,141.2 306.8,140.7 307.5,141.4 308.2,141.0 308.8,140.8 309.5,141.2 310.1,140.9 310.7,140.7 311.3,141.2 311.9,140.6 312.5,141.3 313.0,140.8 313.6,141.1 314.1,141.4 314.6,141.1 315.1,141.1 315.5,140.8 316.0,140.5 316.4,140.6 316.9,140.7 317.3,141.1 317.6,140.9 318.0,141.0" fill="none" stroke="#000" stroke-width="1.6" stroke-linejoin="round"/>
<polyline points="194.0,56.5 194.8,56.6 195.8,57.4 196.2,57.2 196.6,58.1 197.1,59.3 197.5,59.6 197.9,60.3 198.3,61.6 198.7,62.2 199.1,63.1 199.5,63.3 199.9,63.3 200.3,62.7 200.7,61.5 201.1,61.0 201.5,60.0 201.8,59.0 202.0,59.0 202.3,57.6 202.5,56.7 202.7,55.9 203.0,55.6 203.3,55.1 203.5,54.2 203.8,53.1 204.1,52.2 204.4,51.3 204.7,51.1 205.1,50.2 205.4,49.0 205.8,48.4 206.1,47.6 206.5,47.9 206.8,47.9 207.1,47.8 207.3,48.9 207.6,48.9 207.9,50.1 208.2,50.9 208.5,51.8 208.6,52.1 208.8,53.4 208.9,53.3 209.1,54.4 209.2,55.5 209.4,55.4 209.5,56.2 209.6,57.3 209.8,58.0 209.9,58.9 210.1,59.9 210.2,60.1 210.4,61.0 210.5,61.8 210.6,62.2 210.7,63.6 210.8,64.2 211.0,64.8 211.1,64.8 211.2,66.3 211.3,66.9 211.4,67.4 211.6,68.3 211.7,68.8 211.8,69.3 211.9,69.9 212.0,70.7 212.1,71.3 212.3,72.2 212.4,73.3 212.5,74.0 212.6,74.8 212.7,75.4 212.8,75.7 212.9,76.6 213.1,77.2 213.2,78.2 213.3,78.7 213.4,79.1 213.5,80.2 213.6,81.1 213.7,81.2 213.8,82.4 214.0,82.4 214.1,83.3 214.2,84.0 214.3,85.1 214.4,86.0 214.5,86.5 214.6,86.8 214.7,88.1 214.8,88.3 214.9,88.9 215.0,90.3 215.1,90.7 215.2,91.5 215.3,92.3 215.4,93.3 215.5,93.6 215.6,94.6 215.7,95.2 215.8,96.1 215.8,96.5 215.9,97.4 216.0,98.0 216.1,98.5 216.2,99.1 216.3,100.1 216.4,100.4 216.5,102.0 216.6,102.0 216.7,102.7 216.8,103.5 217.0,105.0 217.1,105.2 217.2,105.8 217.3,106.4 217.4,107.1 217.5,108.4 217.6,109.1 217.7,109.8 217.8,110.5 217.9,110.6 218.0,111.8 218.1,112.4 218.2,113.5 218.3,114.3 218.4,115.1 218.6,115.0 218.7,116.4 218.8,117.1 218.9,117.8 219.0,117.7 219.1,118.5 219.2,119.0 219.3,119.6 219.4,121.1 219.6,121.8 219.7,122.4 219.9,123.3 220.0,123.8 220.2,124.2 220.3,124.7 220.5,125.4 220.6,126.6 220.8,126.7 221.0,127.6 221.2,128.4 221.4,128.8 221.6,129.7 221.9,130.4 222.1,131.5 222.3,131.8 222.6,132.3 223.0,133.7 223.4,134.0 223.8,135.0 224.2,135.5 224.7,135.5 225.2,136.4 225.7,136.9 226.3,137.7 226.8,137.7 227.5,138.4 228.2,138.5 229.0,138.5 229.5,139.3 230.1,138.7 230.6,139.5 231.2,139.0 231.9,139.0 232.5,139.2 233.3,139.8 234.1,140.1 235.0,139.3 236.0,139.8 236.5,139.8 236.9,140.1 237.2,139.6 237.5,139.9 237.7,139.8 238.0,140.3 238.2,139.8 238.5,140.4 238.8,139.9 239.2,139.8 239.6,140.3 240.2,140.1 240.8,139.8 241.6,140.3 242.5,139.8 243.6,140.5 244.9,140.4 246.4,140.5 248.1,140.4 250.0,140.2 250.4,140.2 250.9,140.2 251.4,140.7 251.8,139.9 252.3,140.7 252.9,139.9 253.4,140.1 253.9,140.1 254.5,140.7 255.1,140.3 255.7,140.2 256.3,140.7 256.9,140.1 257.6,140.3 258.2,140.4 258.9,140.6 259.6,140.6 260.2,140.5 260.9,140.3 261.7,140.2 262.4,140.1 263.1,140.7 263.9,140.6 264.6,140.6 265.4,140.1 266.1,140.4 266.9,140.7 267.7,140.5 268.5,140.1 269.3,140.4 270.1,140.8 270.9,140.2 271.7,140.2 272.6,140.3 273.4,140.7 274.2,140.8 275.1,140.2 275.9,140.2 276.7,140.3 277.6,140.3 278.4,140.5 279.3,140.2 280.2,140.4 281.0,140.2 281.9,140.9 282.7,140.7 283.6,140.2 284.4,140.9 285.3,140.2 286.2,140.4 287.0,141.0 287.9,140.8 288.7,140.8 289.6,140.5 290.4,140.3 291.3,140.7 292.1,140.2 292.9,140.3 293.8,140.5 294.6,140.2 295.4,140.5 296.2,140.9 297.0,140.8 297.8,140.6 298.6,140.7 299.4,140.6 300.2,140.3 301.0,140.7 301.7,140.5 302.5,140.8 303.2,141.0 304.0,140.6 304.7,140.7 305.4,140.9 306.1,140.6 306.8,140.4 307.5,140.8 308.2,141.0 308.8,140.9 309.5,140.8 310.1,141.0 310.7,140.8 311.3,140.8 311.9,140.6 312.5,140.5 313.0,140.8 313.6,140.3 314.1,140.6 314.6,140.9 315.1,140.9 315.5,140.8 316.0,140.5 316.4,140.6 316.9,140.7 317.3,140.8 317.6,140.6 318.0,140.7" fill="none" stroke="#000" stroke-width="1.6" stroke-linejoin="round"/>
<polyline points="194.0,73.5 194.2,74.1 194.5,75.0 194.8,75.1 195.2,76.4 195.5,77.3 195.9,77.7 196.2,78.7 196.6,80.1 197.0,79.9 197.4,80.7 197.8,80.3 198.2,80.4 198.6,79.7 199.0,78.4 199.2,77.5 199.4,77.3 199.7,76.5 199.9,75.9 200.1,75.0 200.3,74.3 200.5,73.8 200.7,72.8 200.9,71.9 201.1,71.8 201.3,70.5 201.5,70.2 201.7,69.2 201.9,68.5 202.0,67.4 202.1,67.6 202.3,66.4 202.4,65.4 202.5,64.9 202.7,64.3 202.8,63.2 202.9,62.8 203.1,62.1 203.2,61.6 203.4,60.6 203.5,59.8 203.7,59.0 203.8,58.7 204.0,58.0 204.2,56.8 204.4,55.7 204.6,55.5 204.8,54.3 204.9,53.4 205.1,52.7 205.3,52.7 205.5,52.3 206.2,50.9 206.8,50.2 207.5,50.6 207.7,50.6 208.0,51.7 208.2,51.7 208.4,52.7 208.6,53.6 208.8,54.4 209.1,55.0 209.3,55.8 209.4,56.6 209.6,56.8 209.7,58.1 209.9,58.3 210.0,59.5 210.1,59.6 210.3,60.5 210.4,61.1 210.6,62.0 210.7,62.5 210.9,63.2 211.0,64.6 211.2,65.0 211.3,65.8 211.4,66.5 211.5,67.3 211.7,67.9 211.8,68.7 211.9,69.4 212.0,69.8 212.1,71.0 212.3,71.6 212.4,71.6 212.5,73.0 212.6,73.8 212.8,74.4 212.9,74.6 213.0,75.9 213.1,76.4 213.3,76.6 213.4,77.3 213.5,78.9 213.6,79.3 213.7,79.7 213.8,80.2 214.0,81.0 214.1,81.8 214.2,83.0 214.3,83.3 214.4,83.8 214.5,85.2 214.6,85.8 214.7,86.0 214.9,87.4 215.0,87.8 215.1,88.7 215.2,89.3 215.3,90.2 215.4,90.9 215.5,91.6 215.6,91.7 215.7,92.9 215.8,93.5 215.9,94.4 216.0,94.9 216.1,96.0 216.2,96.5 216.3,97.0 216.4,97.7 216.5,98.3 216.6,99.4 216.7,99.7 216.8,100.8 216.9,101.2 217.0,102.2 217.1,103.0 217.2,103.7 217.3,104.7 217.4,104.6 217.5,106.1 217.6,106.6 217.7,107.4 217.8,108.3 218.0,109.2 218.1,109.6 218.2,110.3 218.3,111.6 218.4,111.5 218.5,112.7 218.6,113.4 218.7,113.6 218.8,114.8 218.9,115.5 219.0,116.4 219.1,116.7 219.3,118.0 219.4,118.4 219.5,119.1 219.6,120.2 219.8,120.1 219.9,121.5 220.0,122.1 220.1,122.5 220.2,123.6 220.4,123.8 220.5,124.5 220.7,125.4 220.9,126.5 221.1,126.7 221.3,127.7 221.5,128.4 221.7,129.2 221.9,130.1 222.1,130.3 222.4,131.5 222.6,131.9 222.9,132.6 223.2,133.0 223.6,133.9 223.9,134.9 224.3,135.1 224.8,135.9 225.2,136.0 225.7,136.5 226.3,137.0 227.0,137.7 227.8,138.1 228.3,138.5 228.9,138.0 229.4,138.8 230.0,139.1 230.7,138.9 231.4,138.6 232.2,138.9 233.0,138.8 233.9,139.0 235.0,139.8 235.5,139.5 235.9,139.6 236.3,139.8 236.6,139.9 236.9,139.7 237.2,139.7 237.5,139.8 237.8,139.9 238.1,139.8 238.5,139.9 238.9,139.5 239.5,139.9 240.1,139.8 240.8,140.1 241.6,139.5 242.6,139.6 243.7,139.5 245.0,140.2 246.5,140.3 248.1,140.1 250.0,139.9 250.4,140.3 250.9,140.3 251.4,140.1 251.9,139.8 252.4,139.8 252.9,140.0 253.4,139.9 254.0,140.0 254.6,140.2 255.1,140.4 255.7,139.7 256.4,140.1 257.0,139.7 257.6,139.7 258.3,140.4 258.9,140.1 259.6,140.5 260.3,140.0 261.0,139.7 261.7,140.0 262.4,140.2 263.2,140.5 263.9,140.5 264.7,140.1 265.4,140.0 266.2,139.8 267.0,140.3 267.8,139.9 268.6,139.8 269.4,139.7 270.2,139.7 271.0,140.3 271.8,139.8 272.6,140.6 273.5,139.8 274.3,140.5 275.1,139.9 276.0,139.8 276.8,140.4 277.7,140.0 278.5,140.4 279.4,139.9 280.2,139.8 281.1,140.5 281.9,140.4 282.8,140.5 283.7,140.4 284.5,139.9 285.4,140.4 286.2,140.4 287.1,140.2 287.9,140.6 288.8,140.0 289.6,140.7 290.5,140.5 291.3,139.8 292.2,139.8 293.0,140.4 293.8,140.6 294.6,139.9 295.5,140.1 296.3,140.5 297.1,140.0 297.9,140.6 298.7,140.3 299.5,139.9 300.2,140.2 301.0,140.4 301.8,140.3 302.5,140.5 303.3,140.0 304.0,140.6 304.7,140.2 305.4,140.5 306.1,140.5 306.8,140.3 307.5,140.2 308.2,140.6 308.8,140.8 309.5,140.6 310.1,140.4 310.7,140.2 311.3,140.0 311.9,140.8 312.5,140.6 313.0,140.7 313.6,140.2 314.1,140.5 314.6,140.8 315.1,140.7 315.5,140.5 316.0,140.2 316.4,140.3 316.9,140.7 317.3,140.3 317.6,140.6 318.0,140.4" fill="none" stroke="#000" stroke-width="1.6" stroke-linejoin="round"/>
<polyline points="194.0,98.8 194.3,98.5 194.7,98.2 195.3,97.5 195.8,96.3 196.2,95.6 196.8,95.2 197.4,94.9 197.9,94.4 198.2,94.0 198.5,93.5 198.8,92.0 199.1,92.0 199.4,91.3 199.6,90.6 199.9,89.6 200.1,88.5 200.3,88.2 200.5,87.4 200.7,86.6 200.9,86.1 201.2,84.9 201.5,84.0 201.7,83.8 201.9,83.3 202.0,82.0 202.1,81.8 202.2,81.2 202.2,79.7 202.3,79.3 202.4,78.6 202.6,77.6 202.8,76.7 203.0,76.0 203.2,75.7 203.4,75.0 203.6,73.9 203.7,72.9 203.9,72.9 204.0,72.2 204.1,71.0 204.3,70.6 204.4,70.2 204.5,69.4 204.7,68.3 204.8,67.6 205.0,67.0 205.1,65.9 205.3,65.2 205.4,64.4 205.6,64.1 205.7,63.0 205.9,62.5 206.0,61.6 206.2,61.0 206.4,59.8 206.6,58.9 206.8,58.9 207.0,57.5 207.2,56.5 207.3,56.3 207.5,55.8 207.7,54.7 208.3,53.7 209.0,53.4 209.2,53.9 209.5,53.9 209.8,54.6 210.0,56.3 210.3,57.2 210.6,58.0 210.7,58.6 210.9,58.9 211.0,60.0 211.1,60.3 211.3,61.4 211.4,62.0 211.6,62.8 211.7,63.6 211.9,63.8 212.0,64.3 212.2,65.3 212.3,66.1 212.5,66.8 212.6,67.6 212.7,68.7 212.8,69.6 212.9,69.9 213.1,71.1 213.2,71.7 213.3,71.7 213.4,72.9 213.5,73.4 213.7,73.9 213.8,75.4 213.9,75.5 214.0,76.5 214.1,77.4 214.2,78.4 214.4,78.9 214.5,79.4 214.6,80.2 214.7,80.7 214.8,82.1 214.9,82.8 215.0,82.8 215.1,83.3 215.2,84.2 215.3,85.0 215.4,86.2 215.5,86.9 215.6,87.6 215.7,87.6 215.8,89.0 215.9,89.6 216.0,90.3 216.0,91.3 216.1,91.1 216.2,91.9 216.3,93.2 216.4,94.0 216.5,94.5 216.6,94.8 216.7,95.8 216.8,96.7 216.9,96.9 217.0,97.9 217.1,98.5 217.2,99.2 217.3,100.2 217.4,100.7 217.5,101.5 217.6,102.2 217.7,103.4 217.8,103.5 217.9,104.8 218.0,105.1 218.1,105.6 218.2,107.1 218.3,107.1 218.4,108.4 218.5,109.1 218.6,110.0 218.7,110.1 218.9,111.1 219.0,111.5 219.1,113.0 219.2,113.6 219.3,114.1 219.4,114.7 219.5,115.2 219.6,116.3 219.7,116.7 219.8,117.5 219.9,117.7 220.0,118.6 220.2,119.2 220.3,120.6 220.4,121.2 220.5,121.6 220.6,122.9 220.8,123.1 220.9,123.9 221.0,124.4 221.2,125.1 221.3,126.3 221.5,126.7 221.7,127.4 221.9,128.5 222.1,129.1 222.3,130.3 222.5,130.3 222.7,131.8 223.0,131.6 223.3,133.1 223.6,133.6 223.9,133.8 224.3,134.6 224.7,135.1 225.1,135.6 225.5,136.0 226.0,136.7 226.6,137.8 227.1,138.3 227.8,138.6 228.6,138.2 229.5,138.7 230.0,139.4 230.6,138.8 231.2,139.5 231.9,139.2 232.5,139.9 233.2,139.1 234.0,139.9 234.7,139.5 235.5,139.4 236.3,139.3 237.2,140.1 238.0,139.9 238.6,139.7 239.3,139.9 240.0,140.4 240.7,139.8 241.5,140.1 242.2,139.7 243.0,139.8 243.8,140.3 244.5,140.3 245.3,139.8 246.1,139.7 246.8,139.7 247.5,140.2 248.2,140.1 248.8,139.9 249.4,139.8 250.0,140.2 251.0,140.3 251.9,140.3 252.7,140.1 253.4,139.7 254.0,139.5 254.6,140.1 255.3,139.7 256.0,139.9 256.8,139.2 257.5,139.8 258.2,139.3 259.0,139.6 259.8,139.5 260.5,139.1 261.2,138.5 262.0,139.3 262.8,138.8 263.5,139.1 264.2,138.5 265.0,138.4 265.8,139.0 266.5,138.6 267.2,138.4 268.0,138.6 268.7,138.8 269.5,138.4 270.2,138.9 270.9,138.9 271.6,139.1 272.4,138.8 273.2,139.5 274.0,139.7 274.6,139.8 275.3,139.4 275.9,139.8 276.6,139.6 277.2,140.0 277.9,139.5 278.6,140.3 279.4,140.5 280.2,140.2 281.1,140.2 282.0,140.3 282.6,140.4 283.2,139.9 283.8,140.8 284.4,140.2 285.0,140.2 285.6,140.1 286.2,140.3 286.9,140.8 287.6,140.2 288.3,140.2 289.0,140.8 289.7,140.4 290.5,140.2 291.3,140.8 292.2,140.8 293.1,140.8 294.0,141.0 295.0,140.4 295.6,141.1 296.2,141.0 296.9,140.4 297.6,140.5 298.3,140.9 299.0,140.9 299.8,140.7 300.6,140.6 301.4,140.8 302.2,140.6 303.1,141.0 303.9,141.3 304.8,140.7 305.6,141.1 306.5,141.2 307.3,140.7 308.2,141.3 309.0,141.5 309.8,141.0 310.6,141.0 311.4,141.4 312.2,141.1 312.9,141.0 313.6,141.5 314.3,141.4 315.0,141.0 315.6,140.9 316.2,141.0 316.7,141.1 317.2,141.6 317.6,141.5 318.0,141.2" fill="none" stroke="#000" stroke-width="1.6" stroke-linejoin="round"/>
<line x1="201" y1="54.6" x2="239.7" y2="44.4" stroke="#000" stroke-width="1.35"/>
<line x1="202.5" y1="64.6" x2="239.7" y2="54.7" stroke="#000" stroke-width="1.35"/>
<line x1="200.8" y1="76.6" x2="239.7" y2="67" stroke="#000" stroke-width="1.35"/>
<line x1="273.8" y1="138.1" x2="298.8" y2="120.2" stroke="#000" stroke-width="1.35"/>
<text x="240.7" y="43" font-size="6.4" textLength="8" lengthAdjust="spacingAndGlyphs" fill="#222" stroke="#222" stroke-width="0.15">0%</text>
<text x="240.7" y="54.3" font-size="6.4" textLength="11.9" lengthAdjust="spacingAndGlyphs" fill="#222" stroke="#222" stroke-width="0.15">10%</text>
<text x="240.7" y="65.8" font-size="6.4" textLength="11.9" lengthAdjust="spacingAndGlyphs" fill="#222" stroke="#222" stroke-width="0.15">20%</text>
<text x="299.8" y="119.9" font-size="6.4" textLength="12.5" lengthAdjust="spacingAndGlyphs" fill="#222" stroke="#222" stroke-width="0.15">40%</text>
<polyline points="25.6,245.5 25.8,245.5 26.0,244.9 26.2,244.3 26.5,242.9 26.8,242.5 27.1,242.1 27.4,241.1 27.7,239.6 27.8,239.1 28.0,238.7 28.1,237.8 28.3,237.2 28.4,236.1 28.6,235.6 28.8,234.9 28.9,233.7 29.0,233.1 29.2,233.1 29.3,232.2 29.5,231.6 29.6,230.7 29.8,230.2 30.0,229.4 30.2,228.5 30.4,226.9 30.6,226.6 30.9,225.4 31.1,225.1 31.3,224.0 31.5,223.7 31.7,223.5 31.9,222.9 32.6,222.2 33.3,223.0 34.0,223.9 34.2,224.9 34.4,224.9 34.6,225.5 34.8,226.5 35.0,226.8 35.1,228.1 35.3,229.3 35.5,229.9 35.6,230.3 35.7,231.0 35.8,231.7 35.9,232.0 36.0,232.7 36.1,233.4 36.2,234.2 36.3,235.1 36.4,235.7 36.5,236.4 36.6,237.0 36.7,238.2 36.8,239.3 36.9,239.9 37.0,240.5 37.1,241.2 37.1,241.5 37.2,242.6 37.3,243.0 37.4,243.8 37.4,244.5 37.5,245.1 37.6,245.7 37.7,246.3 37.8,247.0 37.8,248.0 37.9,248.7 38.0,249.6 38.1,249.8 38.1,250.9 38.2,252.1 38.3,252.4 38.4,253.3 38.4,253.9 38.5,254.4 38.6,255.7 38.6,255.7 38.7,256.9 38.7,257.0 38.8,257.6 38.9,259.1 38.9,259.4 39.0,259.8 39.1,260.8 39.1,261.5 39.2,262.5 39.3,262.7 39.3,263.5 39.4,264.9 39.5,265.5 39.5,265.7 39.6,266.6 39.6,267.3 39.7,268.4 39.8,269.0 39.8,269.9 39.9,270.5 39.9,270.9 40.0,271.8 40.0,272.5 40.1,273.2 40.1,273.7 40.2,274.7 40.2,275.3 40.3,276.2 40.3,276.2 40.4,277.6 40.4,277.5 40.5,278.9 40.6,279.4 40.6,280.0 40.7,281.2 40.7,281.5 40.8,282.1 40.8,283.1 40.9,283.9 40.9,284.4 41.0,284.9 41.1,285.7 41.1,286.4 41.2,287.3 41.2,287.7 41.3,288.5 41.4,289.4 41.4,289.9 41.5,290.6 41.5,291.8 41.6,292.5 41.7,292.9 41.7,293.6 41.8,294.1 41.9,294.9 41.9,295.5 42.0,296.6 42.1,297.3 42.1,297.6 42.2,299.0 42.2,299.2 42.3,300.3 42.4,301.0 42.4,301.8 42.5,301.7 42.6,302.7 42.6,303.9 42.7,303.9 42.8,304.7 42.9,305.9 43.0,306.6 43.0,307.8 43.1,308.4 43.2,308.9 43.2,310.0 43.3,310.3 43.4,311.0 43.5,311.9 43.5,312.3 43.6,312.9 43.7,313.7 43.8,314.1 43.9,315.3 43.9,315.6 44.0,316.0 44.1,316.7 44.3,317.9 44.4,318.8 44.6,319.8 44.7,320.5 44.8,321.5 45.0,322.2 45.1,322.4 45.3,322.9 45.5,323.6 45.8,324.8 46.0,324.8 46.3,325.4 46.9,326.0 48.0,325.7 48.4,325.9 48.8,326.6 49.2,326.5 49.6,326.2 50.0,325.9 50.4,326.6 50.9,326.5 51.4,326.6 51.9,326.7 52.6,326.7 53.3,326.2 54.1,326.0 55.0,326.1 56.1,326.3 57.2,326.3 58.5,326.0 60.0,326.0 60.5,326.4 61.0,326.4 61.5,326.2 62.0,326.8 62.5,326.4 63.1,325.9 63.7,326.2 64.3,326.6 64.9,326.1 65.5,326.5 66.2,325.9 66.8,326.1 67.5,326.6 68.2,326.4 68.9,326.5 69.6,326.0 70.3,326.3 71.1,326.4 71.8,326.1 72.6,326.4 73.3,326.3 74.1,326.8 74.9,326.4 75.6,326.2 76.4,326.0 77.2,326.0 78.0,326.5 78.8,326.0 79.6,325.9 80.4,326.0 81.2,326.3 82.0,326.6 82.8,326.4 83.6,326.6 84.4,325.9 85.2,325.9 86.0,326.5 86.7,326.1 87.5,326.5 88.3,326.2 89.1,326.0 89.8,326.1 90.6,325.9 91.3,326.7 92.1,326.4 92.8,326.2 93.5,326.2 94.2,326.2 94.9,325.9 95.6,326.6 96.3,326.4 96.9,326.7 97.6,326.2 98.2,326.4 98.8,326.1 99.4,325.9 100.0,326.7 100.9,326.6 101.8,326.1 102.8,326.7 103.7,326.6 104.6,326.1 105.5,326.4 106.4,326.7 107.2,326.3 108.1,326.7 109.0,326.1 109.8,326.3 110.6,326.6 111.5,326.1 112.3,326.2 113.1,326.7 113.9,326.4 114.6,326.7 115.4,326.2 116.1,326.1 116.8,326.3 117.5,326.1 118.2,326.9 118.9,326.3 119.5,326.5 120.1,326.1 120.7,326.5 121.3,326.4 121.8,326.4 122.4,326.1 122.9,326.1 123.4,326.8 123.8,326.4 124.2,326.3 124.6,326.2 125.0,326.5" fill="none" stroke="#000" stroke-width="1.6" stroke-linejoin="round"/>
<polyline points="25.8,269.6 26.0,269.0 26.3,268.5 26.7,267.7 27.1,267.5 27.5,266.4 27.9,265.3 28.1,265.3 28.4,264.1 28.6,263.7 28.8,263.5 29.1,262.2 29.4,261.8 29.6,261.4 29.9,260.7 30.2,259.4 30.4,258.9 30.7,258.5 30.9,257.6 31.2,257.3 31.5,255.9 31.7,255.8 32.0,254.6 32.3,253.5 32.6,253.0 32.8,252.0 33.1,251.9 33.3,250.9 33.5,251.1 34.3,249.7 34.9,249.6 35.3,249.8 35.6,250.7 36.0,251.2 36.3,253.0 36.4,252.9 36.5,253.7 36.6,254.4 36.7,254.7 36.8,255.8 36.9,256.2 37.0,257.1 37.1,257.8 37.3,258.4 37.4,259.3 37.5,259.9 37.6,260.8 37.7,262.0 37.8,262.1 37.8,263.1 37.9,263.2 38.0,264.3 38.1,264.8 38.2,265.6 38.3,266.1 38.4,266.6 38.5,267.5 38.5,268.2 38.6,268.8 38.7,270.1 38.8,270.5 38.9,271.4 39.0,272.7 39.1,273.4 39.2,274.3 39.3,275.0 39.3,274.9 39.4,275.7 39.5,276.2 39.5,277.5 39.6,278.2 39.7,278.6 39.8,279.4 39.8,280.4 39.9,281.2 40.0,281.5 40.0,282.8 40.1,283.1 40.2,284.1 40.3,284.5 40.3,285.2 40.4,286.7 40.5,287.2 40.5,288.0 40.6,288.1 40.7,288.8 40.8,289.6 40.8,290.4 40.9,291.2 41.0,291.9 41.1,292.4 41.2,293.4 41.3,294.5 41.4,294.8 41.4,296.2 41.5,296.7 41.6,297.6 41.7,297.9 41.8,298.8 41.9,299.8 42.0,300.2 42.1,300.6 42.2,302.0 42.3,302.7 42.4,302.9 42.5,303.4 42.6,304.8 42.7,305.2 42.8,305.4 42.9,306.2 43.0,306.7 43.2,308.1 43.3,308.4 43.5,309.9 43.7,310.6 43.8,310.8 44.0,312.2 44.2,312.7 44.4,313.7 44.6,314.5 44.7,314.7 44.9,315.1 45.2,316.5 45.4,316.5 45.6,317.5 45.8,317.7 46.5,318.5 47.3,319.0 48.1,318.8 49.0,318.5 49.8,318.1 50.4,318.6 51.0,318.2 51.7,318.1 52.3,318.2 53.1,317.4 54.0,318.0 54.6,317.5 55.2,318.3 55.8,318.6 56.4,318.4 57.1,318.9 57.8,319.6 58.6,319.6 59.4,319.8 60.2,319.8 61.0,319.8 61.9,320.2 62.5,320.3 63.1,320.1 63.8,320.2 64.5,320.0 65.2,320.5 66.0,320.4 66.7,319.9 67.5,319.9 68.2,320.1 69.0,319.9 69.7,320.3 70.5,319.7 71.2,319.6 71.9,320.0 72.6,319.3 73.2,319.6 73.8,319.4 74.7,319.7 75.4,319.4 76.1,319.5 76.8,319.0 77.4,319.3 78.1,319.2 78.7,319.1 79.4,319.3 80.1,319.4 80.8,318.7 81.7,318.9 82.3,319.0 82.9,318.9 83.6,318.8 84.2,319.1 84.9,319.1 85.6,319.6 86.4,319.5 87.1,319.3 87.8,319.5 88.6,319.8 89.3,319.8 90.1,319.7 90.8,319.7 91.5,319.8 92.3,320.7 93.0,320.6 93.7,320.1 94.4,320.8 95.1,321.1 95.8,320.9 96.6,320.6 97.3,321.1 98.0,321.1 98.7,321.0 99.5,321.5 100.2,321.1 100.9,322.1 101.6,322.0 102.3,322.1 103.0,322.5 103.7,322.3 104.3,322.1 105.0,322.2 105.6,322.2 106.4,322.2 107.2,323.0 107.9,323.2 108.7,322.8 109.4,322.8 110.1,323.3 110.8,323.5 111.5,323.7 112.2,323.1 112.9,323.8 113.6,323.9 114.3,323.9 115.0,323.6 115.7,323.6 116.4,324.3 117.2,324.0 117.9,324.1 118.6,324.4 119.4,324.4 120.1,324.9 120.8,324.5 121.5,324.4 122.1,325.0 122.8,325.1 123.4,325.4 124.0,325.4 124.9,325.7 125.9,325.9 126.7,325.6 127.6,325.7 128.3,325.5 129.0,325.7 129.6,326.0 130.0,326.0" fill="none" stroke="#000" stroke-width="1.6" stroke-linejoin="round"/>
<polyline points="25.6,297.7 25.8,296.9 26.1,296.9 26.5,295.8 26.9,295.3 27.3,295.0 27.7,293.4 28.1,292.6 28.5,292.3 28.9,291.4 29.3,291.2 29.8,289.9 30.2,290.1 30.7,289.5 31.1,289.0 31.5,288.2 31.9,287.6 32.6,287.2 33.2,286.3 33.7,285.8 34.3,285.7 34.6,286.0 35.0,286.6 35.3,287.3 35.6,288.2 35.9,288.4 36.3,289.6 36.5,290.3 36.6,291.0 36.8,291.4 37.0,291.9 37.2,292.5 37.4,293.5 37.5,294.3 37.7,295.6 37.9,296.3 38.1,297.0 38.3,297.9 38.5,298.6 38.7,299.1 38.9,300.0 39.1,300.0 39.3,301.3 39.5,302.0 39.7,302.5 39.9,303.5 40.1,304.6 40.3,304.9 40.5,305.8 40.7,306.2 41.0,306.9 41.2,308.1 41.4,308.0 41.6,308.7 41.8,309.8 42.1,310.4 42.5,310.9 42.8,312.2 43.1,312.7 43.5,313.6 43.8,314.0 44.1,314.7 44.5,315.2 44.8,315.5 45.4,315.9 46.0,316.2 46.7,316.9 47.8,316.5 48.3,316.1 48.9,316.8 49.6,316.2 50.3,316.1 51.1,316.4 51.8,316.1 52.6,316.2 53.4,316.2 54.2,315.7 55.0,315.9 55.7,315.3 56.4,315.4 57.0,315.2 57.7,314.4 58.4,314.4 59.1,313.8 59.8,313.7 60.5,313.8 61.2,313.1 61.8,312.9 62.5,312.5 63.1,311.6 63.7,312.0 64.4,311.4 65.0,310.5 65.7,310.8 66.3,310.1 66.9,309.5 67.5,309.9 68.0,309.1 68.6,308.9 69.2,307.8 69.8,307.8 70.2,306.7 70.7,306.4 71.1,306.0 71.6,305.1 72.0,305.0 72.5,304.0 72.9,303.5 73.4,303.2 73.8,302.3 74.2,302.1 74.6,301.3 75.0,301.0 75.4,300.2 75.8,300.1 76.4,299.3 76.9,298.0 77.4,297.8 77.9,296.9 78.3,296.8 78.8,296.3 79.3,296.1 79.8,295.4 80.4,295.6 80.9,296.1 81.5,296.6 82.1,296.8 82.7,296.6 83.3,297.7 84.0,297.8 84.7,298.7 85.2,299.3 85.7,299.1 86.2,300.2 86.7,300.4 87.2,300.5 87.7,300.9 88.3,301.6 88.8,302.4 89.4,302.7 90.0,302.8 90.6,303.2 91.1,303.8 91.7,304.9 92.2,304.8 92.7,305.5 93.2,305.8 93.7,306.6 94.3,306.8 94.8,307.1 95.3,308.2 95.9,308.4 96.4,309.0 96.9,309.6 97.5,310.2 98.0,309.8 98.5,310.6 99.1,310.8 99.6,311.6 100.2,312.4 100.7,312.8 101.3,312.6 101.9,313.1 102.5,314.2 103.1,314.5 103.6,314.7 104.2,315.2 104.8,315.3 105.3,316.3 105.9,316.3 106.4,317.1 107.0,317.3 107.5,317.1 108.2,317.8 108.9,318.1 109.5,319.1 110.1,319.2 110.7,319.1 111.4,319.5 112.0,320.0 112.6,320.4 113.3,320.8 114.0,320.9 114.7,321.1 115.4,321.0 116.2,321.7 116.9,321.7 117.7,321.6 118.5,322.1 119.2,322.8 120.0,322.1 120.7,322.4 121.3,323.0 121.9,322.9 122.7,323.3 123.5,324.0 124.2,324.2 124.8,325.0 125.4,325.4 125.8,326.1 126.2,326.0" fill="none" stroke="#000" stroke-width="1.6" stroke-linejoin="round"/>
<polyline points="25.6,319.5 26.1,319.7 26.7,318.5 27.5,318.6 28.3,318.4 29.2,318.1 29.9,317.7 30.7,317.3 31.5,316.9 32.3,316.4 33.1,316.1 33.9,316.6 34.6,316.8 35.2,317.1 35.9,317.2 36.6,317.3 37.2,318.1 37.9,318.4 38.6,318.6 39.2,319.0 39.8,319.2 40.5,319.7 41.1,319.9 41.8,319.8 42.6,320.3 43.4,320.4 44.2,321.1 45.0,320.6 45.8,320.4 46.5,320.1 47.1,319.8 47.8,319.6 48.5,319.0 49.2,318.5 50.0,318.8 50.6,318.2 51.2,317.8 51.8,317.6 52.4,317.0 53.1,316.5 53.7,316.0 54.4,315.8 55.0,315.5 55.7,315.5 56.4,315.0 57.0,315.1 57.7,314.2 58.4,314.5 59.1,313.9 59.8,313.1 60.4,312.9 61.1,312.9 61.7,312.8 62.3,311.8 62.9,311.7 63.5,310.9 64.0,310.8 64.6,309.5 65.1,309.3 65.6,309.1 66.1,307.9 66.6,307.3 67.0,306.5 67.5,306.0 67.9,305.4 68.3,305.2 68.6,304.0 69.0,303.5 69.4,302.7 69.8,302.4 70.1,301.9 70.5,301.1 70.9,300.1 71.3,299.9 71.7,299.5 72.0,298.6 72.4,297.5 72.8,297.5 73.1,297.0 73.5,295.9 73.8,295.2 74.2,294.6 74.5,294.2 74.9,293.8 75.2,293.0 75.5,292.6 75.8,291.3 76.2,290.9 76.5,290.7 77.0,289.9 77.6,289.0 78.1,288.6 78.6,287.8 79.1,287.1 79.9,286.8 80.8,286.0 81.5,286.3 82.4,286.0 83.3,286.6 83.8,287.1 84.3,287.3 84.9,288.0 85.5,288.2 86.0,289.3 86.5,289.3 87.1,290.1 87.8,289.7 88.6,290.8 89.1,291.3 89.6,291.3 90.1,291.5 90.7,292.0 91.3,292.5 91.9,293.6 92.5,293.5 93.2,294.7 93.8,294.9 94.4,295.5 95.0,296.1 95.5,296.5 96.1,297.2 96.6,297.6 97.1,298.0 97.6,298.9 98.1,299.0 98.7,300.0 99.2,300.6 99.7,301.1 100.2,301.2 100.8,302.1 101.3,302.7 101.9,302.8 102.6,303.1 103.3,303.8 104.0,304.6 104.6,304.3 105.3,304.6 105.9,305.4 106.6,305.9 107.1,306.4 107.7,306.4 108.4,307.4 109.0,307.2 109.5,308.1 110.1,307.9 110.6,308.2 111.2,308.8 111.9,309.3 112.4,310.1 112.9,310.6 113.5,310.7 114.1,311.8 114.7,311.8 115.4,312.1 116.0,312.6 116.6,313.6 117.1,314.3 117.7,314.2 118.2,314.6 118.7,315.8 119.2,316.0 119.7,317.3 120.2,317.5 120.6,318.3 121.0,318.7 121.4,319.7 121.8,320.1 122.2,320.6 122.5,321.7 122.9,321.7 123.3,323.0 123.6,323.1 123.9,324.4 124.2,324.9 124.5,325.9 124.7,325.7 125.0,326.6 126.2,327.0 127.0,327.0" fill="none" stroke="#000" stroke-width="1.6" stroke-linejoin="round"/>
<polyline points="25.6,322.5 26.0,322.8 26.6,322.7 27.2,322.2 28.0,321.7 28.8,321.5 29.6,321.4 30.4,321.4 31.2,321.1 31.9,321.0 32.7,321.5 33.4,321.5 34.2,321.3 34.9,322.1 35.7,321.5 36.4,322.0 37.2,321.8 37.9,322.6 38.7,322.8 39.4,322.5 40.2,323.2 41.0,323.5 41.8,323.3 42.5,323.5 43.2,323.8 43.8,324.2 44.6,323.4 45.2,323.6 45.8,323.1 46.4,322.5 47.0,322.1 47.5,321.9 48.1,320.8 48.6,320.9 49.2,319.9 49.8,319.7 50.4,319.3 51.0,318.2 51.6,318.4 52.3,318.2 52.9,317.2 53.6,316.6 54.2,316.4 55.0,316.8 55.7,315.6 56.3,316.1 57.0,315.0 57.7,315.2 58.4,314.3 59.1,314.0 59.8,314.1 60.5,313.3 61.1,313.2 61.7,313.4 62.5,312.8 63.1,312.6 63.7,312.4 64.3,311.2 64.8,310.9 65.4,311.0 65.9,310.4 66.4,309.2 66.9,309.0 67.4,308.2 67.9,307.7 68.3,306.8 68.8,306.1 69.2,306.4 69.7,305.2 70.1,305.1 70.5,303.9 70.9,303.6 71.3,302.7 71.7,302.2 72.0,301.4 72.3,301.2 72.6,300.0 72.9,299.8 73.2,298.8 73.5,297.7 73.7,297.2 74.0,296.5 74.2,296.2 74.4,295.0 74.6,294.2 74.8,294.2 75.0,293.4 75.1,292.6 75.3,291.5 75.5,290.7 75.7,290.1 75.9,289.2 76.1,288.4 76.4,288.1 76.6,287.3 76.9,286.6 77.1,285.7 77.4,284.7 77.6,284.6 77.9,284.0 78.1,283.3 78.5,282.5 79.0,281.8 79.4,281.4 79.8,280.9 80.2,280.5 80.8,280.4 81.4,281.1 82.0,281.9 82.4,283.1 82.7,283.4 83.3,284.2 83.7,284.7 84.2,285.0 84.7,286.4 85.3,286.0 85.9,287.1 86.5,287.7 87.2,287.3 87.9,287.7 88.6,287.5 89.3,287.4 90.0,287.3 90.7,287.2 91.6,287.5 92.4,287.0 93.1,286.8 93.9,286.0 94.4,286.8 94.9,286.9 95.4,287.7 96.0,288.2 96.5,288.7 97.1,290.0 97.5,289.7 97.9,290.9 98.3,291.6 98.7,291.9 99.1,292.6 99.6,293.7 100.0,293.7 100.4,294.7 100.9,295.5 101.3,295.9 101.6,296.8 102.0,297.1 102.3,297.8 102.7,298.5 103.0,299.2 103.3,299.5 103.7,300.4 104.0,300.9 104.4,301.3 104.7,302.2 105.1,302.5 105.5,303.7 105.9,303.9 106.4,304.7 106.9,305.2 107.3,305.7 107.8,306.1 108.3,306.6 108.8,307.9 109.3,308.1 109.8,308.6 110.3,309.2 110.8,310.0 111.3,310.0 111.9,310.6 112.4,311.7 113.0,311.9 113.5,312.6 114.1,313.3 114.6,313.9 115.1,314.4 115.6,314.1 116.1,314.9 116.7,315.9 117.3,316.4 117.8,316.3 118.3,316.8 118.8,317.4 119.3,317.7 119.8,318.5 120.3,319.5 120.8,319.8 121.2,320.5 121.6,320.9 122.0,321.9 122.4,323.1 122.8,323.5 123.2,323.9 123.5,324.5 124.1,325.6 124.6,326.3 125.1,326.3 125.6,327.2 126.5,327.2 127.4,327.3 128.0,327.3" fill="none" stroke="#000" stroke-width="1.6" stroke-linejoin="round"/>
<line x1="37.6" y1="243.4" x2="62.8" y2="226.6" stroke="#000" stroke-width="1.35"/>
<line x1="94.7" y1="286.5" x2="120.9" y2="268.2" stroke="#000" stroke-width="1.35"/>
<line x1="99.6" y1="294.4" x2="121.9" y2="280.1" stroke="#000" stroke-width="1.35"/>
<line x1="101.7" y1="312.4" x2="128.3" y2="295.4" stroke="#000" stroke-width="1.35"/>
<line x1="113.4" y1="325.2" x2="135.7" y2="307.1" stroke="#000" stroke-width="1.35"/>
<text x="64.1" y="226.6" font-size="6.4" textLength="8.8" lengthAdjust="spacingAndGlyphs" fill="#222" stroke="#222" stroke-width="0.15">0%</text>
<text x="121.9" y="267.6" font-size="6.4" textLength="12.8" lengthAdjust="spacingAndGlyphs" fill="#222" stroke="#222" stroke-width="0.15">80%</text>
<text x="123" y="279.7" font-size="6.4" textLength="12.7" lengthAdjust="spacingAndGlyphs" fill="#222" stroke="#222" stroke-width="0.15">40%</text>
<text x="129.4" y="295.3" font-size="6.4" textLength="11.6" lengthAdjust="spacingAndGlyphs" fill="#222" stroke="#222" stroke-width="0.15">20%</text>
<text x="136.4" y="307.8" font-size="6.4" textLength="12.1" lengthAdjust="spacingAndGlyphs" fill="#222" stroke="#222" stroke-width="0.15">10%</text>
<polyline points="192.5,250.1 192.9,249.6 193.5,249.4 194.1,248.9 194.7,248.4 195.2,247.4 195.5,246.9 195.7,246.6 195.8,245.4 196.0,244.7 196.1,244.4 196.2,243.3 196.4,242.5 196.6,241.7 196.7,241.5 196.9,240.0 197.0,239.7 197.2,239.2 197.3,237.9 197.5,237.5 198.0,236.8 198.5,235.8 199.0,235.3 199.5,235.2 199.9,236.2 200.3,237.0 200.6,237.8 200.8,238.0 201.0,238.8 201.3,239.8 201.5,240.8 201.6,241.0 201.7,241.6 201.9,242.5 202.0,243.5 202.1,243.5 202.2,245.0 202.3,245.5 202.4,246.0 202.5,246.9 202.6,247.4 202.7,247.9 202.8,249.2 202.8,249.6 202.9,250.5 203.0,251.3 203.1,252.5 203.2,253.1 203.3,253.2 203.3,254.4 203.4,255.0 203.5,255.7 203.6,256.8 203.6,257.1 203.7,257.9 203.8,259.0 203.8,259.3 203.9,260.1 204.0,260.8 204.1,261.8 204.2,262.4 204.3,263.1 204.3,263.4 204.4,263.7 204.5,265.0 204.6,265.6 204.7,266.5 204.8,267.3 204.9,267.7 205.0,268.3 205.0,268.8 205.1,270.1 205.1,270.1 205.2,270.7 205.3,272.0 205.3,272.5 205.4,272.8 205.4,274.0 205.5,274.8 205.6,275.3 205.6,275.7 205.7,277.0 205.8,277.6 205.9,278.5 205.9,279.7 206.0,280.3 206.1,281.0 206.1,281.0 206.2,281.9 206.3,282.7 206.3,283.0 206.4,284.6 206.5,284.6 206.5,285.4 206.6,286.2 206.7,286.8 206.8,288.1 206.8,288.6 206.9,289.3 207.0,290.0 207.1,290.4 207.1,291.3 207.2,292.6 207.3,293.2 207.4,294.0 207.4,294.1 207.5,294.7 207.6,295.4 207.7,296.6 207.8,297.2 207.8,298.1 207.9,298.9 208.0,299.7 208.1,300.3 208.2,301.5 208.2,301.7 208.3,303.1 208.4,303.5 208.5,303.7 208.6,304.6 208.7,305.5 208.8,306.1 208.8,306.8 208.9,307.2 209.0,307.8 209.1,309.2 209.3,309.6 209.4,310.8 209.5,311.7 209.6,312.3 209.8,312.8 209.9,314.0 210.0,314.2 210.2,315.2 210.3,315.0 210.5,315.9 210.7,317.0 210.9,317.2 211.1,318.6 211.4,318.5 211.7,319.5 212.1,319.7 212.7,320.9 213.1,320.9 213.5,321.4 214.0,321.3 214.4,321.7 215.0,322.0 215.5,321.8 216.2,322.0 217.0,322.7 217.8,322.3 218.8,323.2 220.0,322.7 220.5,322.7 221.0,322.8 221.5,323.5 222.1,323.7 222.7,323.3 223.3,323.6 223.9,323.3 224.5,324.0 225.1,323.9 225.8,323.5 226.5,323.4 227.2,324.1 227.9,323.6 228.6,324.4 229.3,323.9 230.1,324.0 230.8,324.3 231.6,324.2 232.4,324.5 233.2,324.2 234.0,324.9 234.8,324.5 235.7,325.0 236.5,324.4 237.4,325.1 238.2,325.3 239.1,324.8 240.0,324.6 240.6,324.9 241.2,325.2 241.8,324.9 242.5,325.2 243.1,324.8 243.8,325.2 244.4,325.5 245.1,325.3 245.8,325.5 246.5,325.0 247.1,325.7 247.8,325.1 248.5,325.9 249.3,326.0 250.0,326.0 250.7,325.6 251.4,325.5 252.2,325.6 252.9,325.9 253.6,325.8 254.4,326.2 255.1,325.5 255.9,325.8 256.6,326.2 257.4,326.0 258.1,326.0 258.9,325.6 259.6,325.7 260.4,325.9 261.1,326.5 261.9,326.4 262.6,325.9 263.4,326.6 264.1,325.8 264.9,326.4 265.6,326.7 266.4,326.2 267.1,326.8 267.8,326.5 268.6,326.0 269.3,326.3 270.0,326.5 270.7,326.3 271.5,326.8 272.2,326.3 273.0,326.9 273.8,326.5 274.5,326.3 275.3,326.8 276.2,326.4 277.0,326.9 277.8,327.1 278.6,327.0 279.4,326.9 280.3,326.5 281.1,327.0 281.9,326.7 282.8,327.2 283.6,326.8 284.4,327.2 285.3,327.0 286.1,327.1 286.9,327.4 287.7,327.0 288.5,327.0 289.2,327.7 290.0,327.2 290.8,327.7 291.5,327.8 292.2,327.5 292.9,327.2 293.6,327.2 294.3,327.9 294.9,327.2 295.6,327.6 296.2,327.7 296.7,327.3 297.3,327.7 297.8,327.4 298.3,327.8 298.8,327.8 299.2,327.6 299.6,327.5 300.0,327.8" fill="none" stroke="#000" stroke-width="1.6" stroke-linejoin="round"/>
<polyline points="192.5,252.3 193.1,252.2 194.0,252.1 195.0,251.9 195.8,251.6 196.2,251.6 196.5,250.6 196.8,250.2 197.0,248.5 197.2,248.5 197.5,247.3 197.7,246.9 198.0,245.9 198.3,245.3 198.5,244.1 198.8,243.9 199.0,242.8 199.2,242.5 199.7,241.6 200.1,242.1 200.5,242.6 200.8,243.1 201.2,244.8 201.3,244.5 201.5,245.5 201.6,245.8 201.7,246.8 201.9,247.7 202.0,248.4 202.2,248.7 202.3,249.8 202.4,250.7 202.5,251.6 202.6,251.4 202.6,252.6 202.7,253.3 202.8,254.2 202.9,254.5 203.0,255.6 203.1,256.1 203.2,257.2 203.2,257.2 203.3,258.8 203.4,259.1 203.5,259.9 203.6,260.3 203.6,261.1 203.7,262.2 203.8,262.8 203.8,263.0 203.9,263.8 203.9,264.3 204.0,265.1 204.1,265.8 204.1,266.6 204.2,267.9 204.3,268.6 204.3,269.2 204.4,269.7 204.5,270.4 204.5,271.5 204.6,272.4 204.7,272.9 204.7,273.4 204.8,273.7 204.8,274.8 204.9,275.7 205.0,276.3 205.0,276.4 205.1,277.7 205.2,278.1 205.2,278.6 205.3,280.1 205.4,280.6 205.4,281.4 205.5,281.6 205.6,282.9 205.7,283.8 205.7,284.5 205.8,285.1 205.9,285.9 205.9,286.6 206.0,287.1 206.1,287.7 206.1,288.7 206.2,289.4 206.3,290.3 206.4,290.5 206.4,291.8 206.5,292.2 206.6,293.3 206.6,293.3 206.7,294.9 206.8,295.4 206.9,295.7 206.9,297.0 207.0,297.1 207.1,297.8 207.1,298.7 207.2,299.2 207.3,300.1 207.4,301.1 207.4,301.6 207.5,302.2 207.6,302.8 207.7,304.0 207.8,304.8 207.9,305.5 208.0,306.5 208.1,307.1 208.2,307.5 208.3,307.9 208.4,309.1 208.5,309.9 208.6,310.1 208.8,310.9 208.9,311.7 209.0,312.3 209.2,312.4 209.4,313.7 209.6,314.0 209.8,314.8 210.0,316.1 210.2,316.4 210.5,317.1 210.7,317.5 211.0,317.9 211.5,318.5 212.0,319.1 212.7,319.8 214.0,319.7 214.5,319.4 215.1,319.3 215.7,319.4 216.3,319.8 217.0,319.5 217.8,319.7 218.5,319.8 219.3,319.1 220.1,319.6 220.9,318.9 221.7,319.5 222.5,318.9 223.3,318.9 224.0,319.4 224.7,318.8 225.4,318.6 226.2,319.1 226.9,318.7 227.7,318.9 228.5,318.3 229.2,318.3 230.0,318.6 230.7,318.1 231.5,318.4 232.2,317.5 232.8,318.0 233.5,317.3 234.1,317.5 234.6,316.9 235.6,316.7 236.4,317.1 237.1,316.3 237.7,316.3 238.3,315.5 238.9,315.2 239.5,314.6 240.2,314.7 240.8,314.6 241.4,313.9 242.0,313.3 242.6,313.4 243.3,313.0 243.9,312.4 244.6,311.5 245.2,311.6 245.9,311.1 246.6,311.2 247.3,310.3 247.9,310.3 248.5,310.1 249.3,309.8 250.0,310.0 250.7,310.3 251.3,310.7 252.0,310.5 252.7,310.5 253.3,311.2 254.0,310.6 254.6,311.6 255.4,311.8 256.0,312.0 256.6,312.3 257.3,313.0 258.0,313.6 258.6,313.9 259.3,314.3 260.0,313.9 260.8,314.4 261.6,314.3 262.3,315.1 263.1,315.1 263.9,314.4 264.7,314.7 265.4,314.5 266.0,313.9 266.7,314.0 267.3,314.0 268.0,313.6 268.6,312.9 269.3,312.9 269.8,312.1 270.3,311.8 270.9,311.2 271.4,311.1 271.9,310.2 272.4,309.7 273.0,309.1 273.4,308.4 273.9,308.5 274.7,307.8 275.4,307.4 276.1,306.9 276.7,306.8 277.4,307.3 277.9,307.8 278.5,308.1 279.0,308.2 279.5,308.6 280.0,309.6 280.4,310.7 280.6,310.7 280.8,311.9 281.0,312.1 281.2,313.0 281.3,313.5 281.5,314.5 281.6,315.4 281.8,316.7 282.0,317.4 282.2,317.4 282.4,318.3 282.7,319.6 282.9,319.6 283.2,320.5 283.4,321.2 283.7,321.6 284.0,322.3 284.3,322.9 284.8,323.5 285.3,324.5 285.8,324.2 286.3,324.5 287.0,325.4 287.8,325.4 288.3,325.9 288.9,326.0 289.5,326.3 290.2,326.1 290.8,326.1 291.5,326.9 292.3,326.8 293.0,327.0 293.9,327.3 294.7,327.5 295.4,327.2 296.1,327.4 296.9,328.0 297.7,327.7 298.5,327.5 299.4,327.9 300.3,327.7 301.1,328.2 301.9,327.6 302.7,328.3 303.4,328.1 304.0,328.0 304.6,328.6 305.0,328.2" fill="none" stroke="#000" stroke-width="1.6" stroke-linejoin="round"/>
<polyline points="192.5,255.2 193.2,255.2 194.3,255.5 195.2,255.3 195.7,255.3 196.1,254.7 196.5,253.8 196.9,252.8 197.3,252.5 197.8,251.1 198.2,250.5 198.6,250.2 199.2,249.5 199.8,248.5 200.4,248.0 200.9,248.0 201.2,248.1 201.5,249.1 201.7,249.7 202.0,250.4 202.1,250.9 202.2,251.8 202.3,252.0 202.4,252.5 202.5,253.8 202.6,254.2 202.8,255.1 202.9,256.1 203.0,257.4 203.1,257.2 203.1,258.0 203.2,258.4 203.3,259.3 203.3,260.1 203.4,261.1 203.5,261.6 203.6,262.2 203.6,262.8 203.7,263.7 203.8,264.2 203.8,265.5 203.9,266.3 204.0,267.1 204.1,267.3 204.1,268.5 204.2,269.4 204.3,270.0 204.4,271.0 204.4,271.7 204.5,272.2 204.5,273.0 204.6,273.6 204.7,274.5 204.7,274.5 204.8,275.8 204.9,276.5 204.9,277.2 205.0,277.6 205.0,278.2 205.1,279.4 205.2,280.3 205.2,280.6 205.3,281.3 205.4,282.1 205.4,282.7 205.5,284.0 205.6,285.0 205.6,285.5 205.7,285.9 205.8,286.9 205.8,287.1 205.9,288.5 206.0,288.8 206.0,289.3 206.1,290.6 206.2,291.0 206.3,291.9 206.3,292.4 206.4,293.6 206.5,294.4 206.6,295.4 206.6,295.5 206.7,296.9 206.8,297.0 206.9,297.8 206.9,298.9 207.0,299.3 207.1,300.0 207.2,300.8 207.2,301.1 207.3,302.3 207.4,302.6 207.5,304.1 207.7,304.9 207.8,305.4 207.9,305.7 208.0,307.1 208.1,307.2 208.2,308.3 208.4,308.9 208.5,309.2 208.6,310.3 208.7,311.0 208.9,311.5 209.0,311.9 209.2,312.9 209.4,313.9 209.6,314.4 209.8,315.7 210.0,316.6 210.2,317.1 210.5,317.9 210.7,317.9 211.0,318.9 211.5,318.9 212.0,319.7 212.7,319.7 214.0,320.2 214.5,320.4 215.1,320.5 215.7,320.3 216.3,320.2 217.0,320.1 217.8,320.3 218.5,320.1 219.3,320.1 220.1,320.5 220.9,320.3 221.7,320.2 222.5,320.0 223.3,320.4 224.0,319.9 224.7,320.0 225.4,320.2 226.2,320.3 226.9,320.5 227.7,320.3 228.4,320.5 229.2,320.4 230.0,320.2 230.7,320.2 231.4,319.5 232.1,319.6 232.8,319.4 233.4,320.1 234.0,319.9 234.6,319.7 235.5,319.2 236.3,319.1 237.0,318.6 237.6,318.8 238.1,318.8 238.7,317.9 239.3,317.4 240.0,317.2 240.6,317.1 241.3,317.3 241.9,316.9 242.5,316.3 243.2,315.6 243.9,315.3 244.6,315.1 245.4,315.4 246.2,315.0 246.8,315.3 247.5,315.2 248.2,315.0 248.9,314.6 249.6,314.9 250.4,314.2 251.2,314.1 251.9,314.5 252.7,314.5 253.4,314.2 254.1,314.3 254.8,314.1 255.4,315.0 256.2,314.9 256.9,315.3 257.6,315.5 258.3,315.3 259.0,315.8 259.6,315.8 260.2,316.5 260.8,316.8 261.4,316.4 262.0,316.6 262.7,317.1 263.4,317.7 264.0,317.9 264.6,317.9 265.2,319.0 265.8,319.3 266.4,319.3 267.0,319.2 267.7,320.2 268.4,320.2 269.1,320.0 269.8,320.5 270.5,320.9 271.2,321.4 272.0,321.3 272.6,321.6 273.3,321.4 274.0,321.6 274.6,322.4 275.3,322.1 276.1,322.0 276.8,322.7 277.6,322.5 278.5,322.8 279.1,323.3 279.7,323.6 280.3,323.9 280.9,324.2 281.5,324.3 282.1,324.2 282.8,325.1 283.5,324.8 284.1,325.4 284.8,325.6 285.6,326.1 286.3,326.4 287.0,326.2 287.8,326.7 288.5,326.9 289.2,326.8 289.9,326.7 290.7,327.5 291.5,327.3 292.4,326.9 293.2,327.2 294.1,327.9 294.9,327.3 295.7,327.5 296.5,328.0 297.2,328.0 297.9,327.9 298.5,328.1 299.1,327.5 299.6,327.6 300.0,328.0" fill="none" stroke="#000" stroke-width="1.6" stroke-linejoin="round"/>
<polyline points="192.5,279.8 193.1,280.2 194.0,280.1 194.9,279.0 195.3,278.5 195.7,277.9 196.1,277.7 196.5,276.2 196.9,276.0 197.4,275.4 197.9,274.4 198.4,274.1 198.9,273.2 199.6,273.1 200.3,274.4 200.4,275.5 200.6,275.5 200.7,276.9 200.8,277.3 201.0,277.6 201.1,279.0 201.2,279.2 201.4,280.4 201.5,280.8 201.6,282.3 201.8,283.2 201.9,284.1 202.0,283.9 202.1,285.4 202.2,285.9 202.3,286.8 202.4,287.3 202.5,288.1 202.7,288.9 202.8,289.8 202.9,289.9 203.0,290.6 203.1,291.8 203.2,292.3 203.3,293.2 203.4,293.6 203.5,294.9 203.6,295.0 203.7,296.5 203.8,297.2 203.9,297.6 204.1,298.0 204.2,299.2 204.3,299.5 204.4,300.5 204.5,300.9 204.6,302.4 204.7,302.7 204.9,303.2 205.0,303.6 205.1,304.9 205.3,305.8 205.4,306.5 205.6,306.6 205.7,307.5 205.9,308.2 206.0,309.3 206.2,309.4 206.3,310.5 206.5,311.5 206.7,312.0 206.8,311.9 207.0,312.6 207.2,313.5 207.5,314.9 207.7,315.6 208.0,316.3 208.2,317.0 208.5,317.7 208.8,318.5 209.1,319.1 209.5,319.9 209.9,320.2 210.2,320.7 210.4,321.1 210.8,321.3 211.5,321.4 212.5,320.9 214.0,321.7 214.5,321.9 215.0,321.5 215.5,322.0 216.1,321.4 216.7,322.1 217.4,321.7 218.1,321.9 218.8,321.6 219.5,321.6 220.3,321.7 221.0,321.7 221.8,321.5 222.6,321.9 223.4,322.4 224.3,322.1 225.1,322.4 225.9,322.2 226.7,322.3 227.5,322.5 228.3,322.2 229.1,321.8 229.9,321.8 230.7,322.0 231.4,321.6 232.1,321.8 232.8,322.4 233.4,322.4 234.0,321.9 234.6,322.2 235.6,322.2 236.5,322.3 237.3,322.1 238.1,321.8 238.9,321.3 239.6,321.9 240.3,321.3 241.0,321.5 241.6,321.1 242.3,321.2 242.9,321.5 243.5,320.7 244.2,320.9 244.8,321.0 245.5,320.8 246.2,321.2 246.9,320.7 247.6,321.2 248.4,321.0 249.1,321.3 249.8,320.6 250.5,320.8 251.2,320.9 251.9,321.5 252.7,320.8 253.4,321.1 254.1,321.7 254.8,322.0 255.5,321.4 256.3,321.7 257.0,322.1 257.7,322.2 258.4,322.3 259.1,322.5 259.8,322.1 260.4,322.3 261.1,322.2 261.7,322.9 262.4,322.6 263.1,322.8 263.7,323.6 264.4,323.5 265.2,323.6 265.9,323.8 266.7,323.9 267.5,324.2 268.4,324.0 269.3,323.9 269.9,324.0 270.5,324.1 271.2,324.5 271.8,324.4 272.5,324.5 273.2,324.9 274.0,325.5 274.7,325.3 275.4,325.1 276.2,325.6 277.0,325.2 277.7,325.3 278.5,325.6 279.3,325.8 280.1,326.1 280.8,326.0 281.6,326.4 282.3,325.9 283.1,326.8 283.8,326.3 284.5,326.9 285.2,326.3 285.9,327.1 286.6,326.6 287.2,327.2 287.8,327.3 288.7,327.3 289.6,327.0 290.5,326.8 291.4,327.1 292.2,327.8 293.1,327.2 293.9,327.7 294.7,327.7 295.4,327.8 296.2,327.5 296.8,327.5 297.5,327.5 298.1,328.3 298.7,327.8 299.2,328.1 299.6,328.0 300.0,328.0" fill="none" stroke="#000" stroke-width="1.6" stroke-linejoin="round"/>
<polyline points="192.5,297.6 193.1,297.4 194.0,297.2 194.9,296.8 195.4,297.1 195.9,295.9 196.4,296.1 197.0,294.9 197.5,294.7 197.9,293.7 198.6,293.6 199.3,292.6 199.9,292.6 200.6,292.9 201.2,293.0 201.9,294.4 202.1,295.4 202.3,295.5 202.5,296.3 202.6,297.4 202.8,297.7 203.0,298.5 203.2,299.3 203.4,300.3 203.6,301.0 203.7,302.0 203.9,302.6 204.1,303.7 204.3,303.8 204.5,305.1 204.7,306.0 204.8,306.1 205.0,306.6 205.2,307.7 205.3,308.0 205.5,309.0 205.7,310.0 205.9,310.2 206.1,311.0 206.3,312.0 206.5,312.4 206.8,313.3 207.0,314.1 207.3,314.5 207.5,315.2 207.8,316.2 208.1,317.0 208.4,318.1 208.7,318.5 209.0,318.6 209.4,319.5 209.8,320.6 210.3,321.1 210.7,321.9 211.3,322.5 212.0,322.8 212.5,322.4 212.9,323.4 213.3,323.2 213.8,323.0 214.4,323.1 215.3,323.8 216.5,323.4 218.0,323.4 218.5,323.6 219.0,324.3 219.5,323.9 220.0,324.2 220.6,323.6 221.1,324.0 221.7,323.9 222.3,323.9 223.0,324.4 223.6,324.1 224.3,324.0 225.0,324.8 225.7,324.4 226.4,324.1 227.1,324.0 227.9,324.7 228.6,324.6 229.4,324.2 230.2,324.6 231.0,324.9 231.7,324.8 232.5,324.6 233.4,324.8 234.2,325.0 235.0,325.1 235.8,324.7 236.7,325.3 237.5,325.5 238.3,325.3 239.2,325.5 240.0,325.1 240.6,325.6 241.3,325.0 241.9,325.0 242.6,325.4 243.3,325.7 244.0,325.0 244.7,325.2 245.4,325.0 246.1,325.4 246.8,325.2 247.5,325.3 248.3,325.8 249.0,325.7 249.8,326.0 250.5,325.6 251.3,325.8 252.1,325.3 252.8,326.1 253.6,325.5 254.4,325.8 255.1,325.8 255.9,326.3 256.7,325.9 257.4,326.3 258.2,326.0 258.9,325.7 259.7,326.3 260.4,325.7 261.2,326.5 261.9,326.0 262.7,325.9 263.4,326.5 264.1,326.0 264.8,326.1 265.5,326.1 266.2,326.4 266.8,325.8 267.5,326.2 268.1,326.0 268.8,326.6 269.4,325.9 270.0,326.5 270.9,326.2 271.8,326.4 272.7,326.6 273.6,326.8 274.4,326.3 275.3,326.4 276.2,326.4 277.0,327.2 277.9,326.5 278.7,326.5 279.5,326.9 280.3,327.0 281.1,327.3 281.9,326.6 282.6,326.8 283.4,326.8 284.1,327.2 284.7,327.1 285.4,327.1 286.0,327.6 286.6,327.5 287.2,327.7 287.8,327.8 288.3,327.2 288.8,327.8 289.2,327.4 289.6,327.1 290.0,327.5" fill="none" stroke="#000" stroke-width="1.6" stroke-linejoin="round"/>
<line x1="203.5" y1="249.3" x2="228.5" y2="232.9" stroke="#000" stroke-width="1.35"/>
<line x1="217.7" y1="318.9" x2="238.5" y2="304.3" stroke="#000" stroke-width="1.35"/>
<line x1="255.9" y1="316.7" x2="272.1" y2="304.8" stroke="#000" stroke-width="1.35"/>
<line x1="267.8" y1="321" x2="290.8" y2="305.7" stroke="#000" stroke-width="1.35"/>
<line x1="284" y1="317.6" x2="299.3" y2="317.6" stroke="#000" stroke-width="1.35"/>
<text x="229.8" y="233.1" font-size="6.4" textLength="9" lengthAdjust="spacingAndGlyphs" fill="#222" stroke="#222" stroke-width="0.15">0%</text>
<text x="238.9" y="303.2" font-size="6.4" textLength="11.3" lengthAdjust="spacingAndGlyphs" fill="#222" stroke="#222" stroke-width="0.15">10%</text>
<text x="273.8" y="304.6" font-size="6.4" textLength="11.9" lengthAdjust="spacingAndGlyphs" fill="#222" stroke="#222" stroke-width="0.15">20%</text>
<text x="291.6" y="304.6" font-size="6.4" textLength="12.4" lengthAdjust="spacingAndGlyphs" fill="#222" stroke="#222" stroke-width="0.15">40%</text>
<text x="301" y="319.9" font-size="6.4" textLength="11.9" lengthAdjust="spacingAndGlyphs" fill="#222" stroke="#222" stroke-width="0.15">80%</text>
<line x1="364.4" y1="16.9" x2="364.4" y2="143.6" stroke="#000" stroke-width="1.2"/>
<line x1="363.8" y1="143.3" x2="519.5" y2="143.3" stroke="#000" stroke-width="1.3"/>
<line x1="361.8" y1="143" x2="364.4" y2="143" stroke="#000" stroke-width="1"/>
<text x="361" y="146" font-size="7.6" text-anchor="end" textLength="3.75" lengthAdjust="spacingAndGlyphs" fill="#222" stroke="#222" stroke-width="0.15">0</text>
<line x1="361.8" y1="101.13" x2="364.4" y2="101.13" stroke="#000" stroke-width="1"/>
<text x="361" y="104.13" font-size="7.6" text-anchor="end" textLength="7.5" lengthAdjust="spacingAndGlyphs" fill="#222" stroke="#222" stroke-width="0.15">50</text>
<line x1="361.8" y1="59.27" x2="364.4" y2="59.27" stroke="#000" stroke-width="1"/>
<text x="361" y="62.27" font-size="7.6" text-anchor="end" textLength="11.25" lengthAdjust="spacingAndGlyphs" fill="#222" stroke="#222" stroke-width="0.15">100</text>
<line x1="361.8" y1="17.4" x2="364.4" y2="17.4" stroke="#000" stroke-width="1"/>
<text x="361" y="20.4" font-size="7.6" text-anchor="end" textLength="11.25" lengthAdjust="spacingAndGlyphs" fill="#222" stroke="#222" stroke-width="0.15">150</text>
<rect x="369.35" y="141.62" width="8.5" height="1.38" fill="#fff" stroke="#000" stroke-width="1.1"/>
<rect x="382.3" y="141.33" width="9.6" height="1.67" fill="#000"/>
<text x="380.35" y="155.6" font-size="8.2" text-anchor="middle" textLength="9.6" lengthAdjust="spacingAndGlyphs" fill="#222" stroke="#222" stroke-width="0.15">0%</text>
<rect x="410.15" y="141.12" width="8.5" height="1.88" fill="#fff" stroke="#000" stroke-width="1.1"/>
<rect x="423.1" y="121.23" width="9.6" height="21.77" fill="#000"/>
<text x="421.15" y="155.6" font-size="8.2" text-anchor="middle" textLength="13" lengthAdjust="spacingAndGlyphs" fill="#222" stroke="#222" stroke-width="0.15">10%</text>
<rect x="450.95" y="141.12" width="8.5" height="1.88" fill="#fff" stroke="#000" stroke-width="1.1"/>
<rect x="463.9" y="80.7" width="9.6" height="62.3" fill="#000"/>
<line x1="468.7" y1="80.7" x2="468.7" y2="80.2" stroke="#000" stroke-width="1"/>
<line x1="466.9" y1="80.2" x2="470.5" y2="80.2" stroke="#000" stroke-width="1.2"/>
<text x="461.95" y="155.6" font-size="8.2" text-anchor="middle" textLength="13" lengthAdjust="spacingAndGlyphs" fill="#222" stroke="#222" stroke-width="0.15">20%</text>
<rect x="491.75" y="140.45" width="8.5" height="2.55" fill="#fff" stroke="#000" stroke-width="1.1"/>
<rect x="504.7" y="44.19" width="9.6" height="98.81" fill="#000"/>
<line x1="509.5" y1="44.19" x2="509.5" y2="41.6" stroke="#000" stroke-width="1"/>
<line x1="507" y1="41.6" x2="512" y2="41.6" stroke="#000" stroke-width="1.2"/>
<text x="502.75" y="155.6" font-size="8.2" text-anchor="middle" textLength="13" lengthAdjust="spacingAndGlyphs" fill="#222" stroke="#222" stroke-width="0.15">40%</text>
<rect x="374.4" y="27.8" width="14.6" height="5.8" fill="#fff" stroke="#000" stroke-width="1.2"/>
<rect x="373.8" y="41.8" width="15.8" height="7" fill="#000"/>
<text x="391.5" y="33.8" font-size="9.8" textLength="47.5" lengthAdjust="spacingAndGlyphs" fill="#111" stroke="#111" stroke-width="0.1">Erythrocytes</text>
<text x="391.5" y="48.4" font-size="9.8" textLength="31.2" lengthAdjust="spacingAndGlyphs" fill="#111" stroke="#111" stroke-width="0.1">Platelets</text>
<text x="400.3" y="165.9" font-size="9.9" font-weight="bold" textLength="86.8" lengthAdjust="spacingAndGlyphs" fill="#111">Plasma concentration</text>
<text x="345.8" y="122.4" font-size="9.6" font-weight="bold" textLength="93.8" lengthAdjust="spacingAndGlyphs" transform="rotate(-90 345.8 122.4)" fill="#111">C3 deposition (MFI)</text>
<line x1="364.4" y1="203" x2="364.4" y2="328.6" stroke="#000" stroke-width="1.2"/>
<line x1="363.8" y1="328.3" x2="518.5" y2="328.3" stroke="#000" stroke-width="1.3"/>
<line x1="361.8" y1="328" x2="364.4" y2="328" stroke="#000" stroke-width="1"/>
<text x="361" y="331" font-size="7.6" text-anchor="end" textLength="3.75" lengthAdjust="spacingAndGlyphs" fill="#222" stroke="#222" stroke-width="0.15">0</text>
<line x1="361.8" y1="296.88" x2="364.4" y2="296.88" stroke="#000" stroke-width="1"/>
<text x="361" y="299.88" font-size="7.6" text-anchor="end" textLength="7.5" lengthAdjust="spacingAndGlyphs" fill="#222" stroke="#222" stroke-width="0.15">25</text>
<line x1="361.8" y1="265.75" x2="364.4" y2="265.75" stroke="#000" stroke-width="1"/>
<text x="361" y="268.75" font-size="7.6" text-anchor="end" textLength="7.5" lengthAdjust="spacingAndGlyphs" fill="#222" stroke="#222" stroke-width="0.15">50</text>
<line x1="361.8" y1="234.62" x2="364.4" y2="234.62" stroke="#000" stroke-width="1"/>
<text x="361" y="237.62" font-size="7.6" text-anchor="end" textLength="7.5" lengthAdjust="spacingAndGlyphs" fill="#222" stroke="#222" stroke-width="0.15">75</text>
<line x1="361.8" y1="203.5" x2="364.4" y2="203.5" stroke="#000" stroke-width="1"/>
<text x="361" y="206.5" font-size="7.6" text-anchor="end" textLength="11.25" lengthAdjust="spacingAndGlyphs" fill="#222" stroke="#222" stroke-width="0.15">100</text>
<rect x="368.55" y="326.68" width="6.7" height="1.32" fill="#fff" stroke="#000" stroke-width="1.1"/>
<rect x="378.8" y="326.26" width="7.8" height="1.74" fill="#000"/>
<text x="377.3" y="341" font-size="8.2" text-anchor="middle" textLength="9.6" lengthAdjust="spacingAndGlyphs" fill="#222" stroke="#222" stroke-width="0.15"><tspan font-weight="bold">0</tspan>%</text>
<rect x="400.75" y="325.94" width="6.7" height="2.06" fill="#fff" stroke="#000" stroke-width="1.1"/>
<rect x="411" y="323.64" width="7.8" height="4.36" fill="#000"/>
<text x="409.5" y="341" font-size="8.2" text-anchor="middle" textLength="13" lengthAdjust="spacingAndGlyphs" fill="#222" stroke="#222" stroke-width="0.15">10%</text>
<rect x="432.95" y="325.06" width="6.7" height="2.94" fill="#fff" stroke="#000" stroke-width="1.1"/>
<rect x="443.2" y="311.81" width="7.8" height="16.19" fill="#000"/>
<text x="441.7" y="341" font-size="8.2" text-anchor="middle" textLength="13" lengthAdjust="spacingAndGlyphs" fill="#222" stroke="#222" stroke-width="0.15">20%</text>
<rect x="465.15" y="320.21" width="6.7" height="7.79" fill="#fff" stroke="#000" stroke-width="1.1"/>
<rect x="475.4" y="258.9" width="7.8" height="69.1" fill="#000"/>
<line x1="479.3" y1="258.9" x2="479.3" y2="257.66" stroke="#000" stroke-width="1"/>
<line x1="477.5" y1="257.66" x2="481.1" y2="257.66" stroke="#000" stroke-width="1.2"/>
<text x="473.9" y="341" font-size="8.2" text-anchor="middle" textLength="13" lengthAdjust="spacingAndGlyphs" fill="#222" stroke="#222" stroke-width="0.15">40%</text>
<rect x="497.35" y="300.54" width="6.7" height="27.46" fill="#fff" stroke="#000" stroke-width="1.1"/>
<rect x="507.6" y="211.84" width="7.8" height="116.16" fill="#000"/>
<line x1="511.5" y1="211.84" x2="511.5" y2="205.12" stroke="#000" stroke-width="1"/>
<line x1="509" y1="205.12" x2="514" y2="205.12" stroke="#000" stroke-width="1.2"/>
<text x="506.1" y="341" font-size="8.2" text-anchor="middle" textLength="13" lengthAdjust="spacingAndGlyphs" fill="#222" stroke="#222" stroke-width="0.15">80%</text>
<rect x="377.9" y="209.8" width="15.2" height="6.2" fill="#fff" stroke="#000" stroke-width="1.2"/>
<rect x="377.3" y="223.9" width="16.4" height="7.4" fill="#000"/>
<text x="395.5" y="216.2" font-size="9.8" textLength="47.2" lengthAdjust="spacingAndGlyphs" fill="#111" stroke="#111" stroke-width="0.1">Erythrocytes</text>
<text x="395.5" y="230.9" font-size="9.8" textLength="31.1" lengthAdjust="spacingAndGlyphs" fill="#111" stroke="#111" stroke-width="0.1">Platelets</text>
<text x="400.2" y="351.7" font-size="9.9" font-weight="bold" textLength="87.2" lengthAdjust="spacingAndGlyphs" fill="#111">Plasma concentration</text>
<text x="345.5" y="306.4" font-size="9.6" font-weight="bold" textLength="93.4" lengthAdjust="spacingAndGlyphs" transform="rotate(-90 345.5 306.4)" fill="#111">C3 deposition (MFI)</text>
</svg></body></html>
